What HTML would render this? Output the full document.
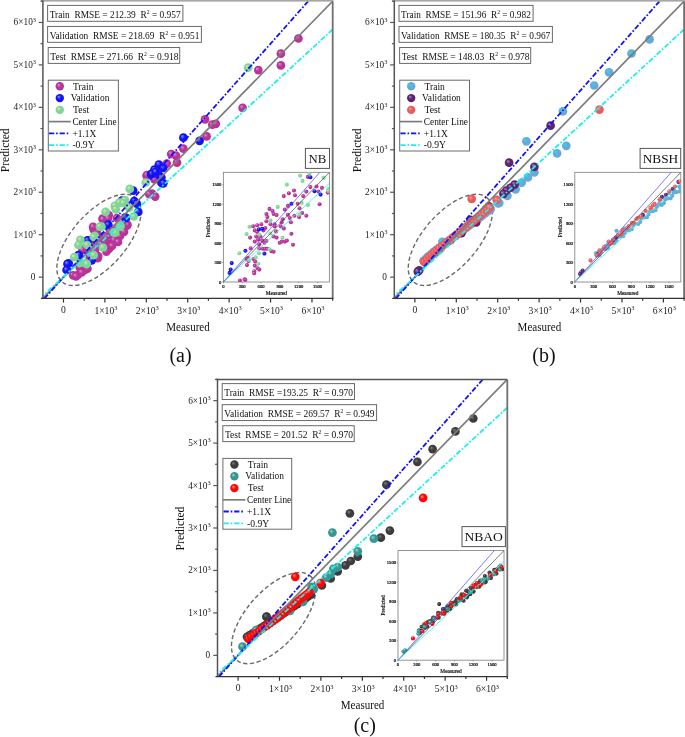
<!DOCTYPE html>
<html><head><meta charset="utf-8"><style>
html,body{margin:0;padding:0;background:#fff;}
svg{display:block;will-change:transform;}
text{font-family:"Liberation Serif", serif;}
</style></head><body>
<svg width="685" height="737" viewBox="0 0 685 737" font-family="Liberation Serif">
<defs><radialGradient id="gatrain" cx="0.5" cy="0.5" r="0.5" fx="0.33" fy="0.3"><stop offset="0" stop-color="#dc97c6"/><stop offset="0.5" stop-color="#b8329a"/><stop offset="1" stop-color="#b8329a"/></radialGradient><radialGradient id="gaval" cx="0.5" cy="0.5" r="0.5" fx="0.33" fy="0.3"><stop offset="0" stop-color="#9090ff"/><stop offset="0.5" stop-color="#1414f2"/><stop offset="1" stop-color="#1414f2"/></radialGradient><radialGradient id="gatest" cx="0.5" cy="0.5" r="0.5" fx="0.33" fy="0.3"><stop offset="0" stop-color="#eee6a0"/><stop offset="0.5" stop-color="#7cd69a"/><stop offset="1" stop-color="#7cd69a"/></radialGradient><radialGradient id="gbtrain" cx="0.5" cy="0.5" r="0.5" fx="0.33" fy="0.3"><stop offset="0" stop-color="#10e8f0"/><stop offset="0.5" stop-color="#67a9db"/><stop offset="1" stop-color="#67a9db"/></radialGradient><radialGradient id="gbval" cx="0.5" cy="0.5" r="0.5" fx="0.33" fy="0.3"><stop offset="0" stop-color="#b58ac8"/><stop offset="0.5" stop-color="#5a2470"/><stop offset="1" stop-color="#5a2470"/></radialGradient><radialGradient id="gbtest" cx="0.5" cy="0.5" r="0.5" fx="0.33" fy="0.3"><stop offset="0" stop-color="#f7a8a8"/><stop offset="0.5" stop-color="#eb5a5c"/><stop offset="1" stop-color="#eb5a5c"/></radialGradient><radialGradient id="gctrain" cx="0.5" cy="0.5" r="0.5" fx="0.33" fy="0.3"><stop offset="0" stop-color="#808080"/><stop offset="0.5" stop-color="#3c3c3c"/><stop offset="1" stop-color="#3c3c3c"/></radialGradient><radialGradient id="gcval" cx="0.5" cy="0.5" r="0.5" fx="0.33" fy="0.3"><stop offset="0" stop-color="#a8dca0"/><stop offset="0.5" stop-color="#369696"/><stop offset="1" stop-color="#369696"/></radialGradient><radialGradient id="gctest" cx="0.5" cy="0.5" r="0.5" fx="0.33" fy="0.3"><stop offset="0" stop-color="#ff9a9a"/><stop offset="0.5" stop-color="#ff0606"/><stop offset="1" stop-color="#ff0606"/></radialGradient></defs>
<rect width="685" height="737" fill="#fff"/>
<g transform="translate(0,0)">
<clipPath id="clipa"><rect x="42.9" y="1.2" width="289.8" height="297.2"/></clipPath>
<clipPath id="iclipa"><rect x="223.4" y="172.35" width="105.99999999999997" height="109.65"/></clipPath>
<g clip-path="url(#clipa)">
<ellipse cx="98.95" cy="239.9" rx="55.9" ry="27.0" transform="rotate(-48.7 98.95 239.9)" fill="none" stroke="#6a6a6a" stroke-width="1.4" stroke-dasharray="4.2 2.6"/>
<circle cx="298.4" cy="38.5" r="4.35" fill="url(#gatrain)"/><circle cx="280.9" cy="53.7" r="4.35" fill="url(#gatrain)"/><circle cx="280.9" cy="65.4" r="4.35" fill="url(#gatrain)"/><circle cx="258.3" cy="70.1" r="4.35" fill="url(#gatrain)"/><circle cx="242.6" cy="107.9" r="4.35" fill="url(#gatrain)"/><circle cx="205.0" cy="119.4" r="4.35" fill="url(#gatrain)"/><circle cx="212.3" cy="124.7" r="4.35" fill="url(#gatrain)"/><circle cx="215.8" cy="123.8" r="4.35" fill="url(#gatrain)"/><circle cx="206.6" cy="136.4" r="4.35" fill="url(#gatrain)"/><circle cx="183.4" cy="148.7" r="4.35" fill="url(#gatrain)"/><circle cx="171.2" cy="154.0" r="4.35" fill="url(#gatrain)"/><circle cx="175.9" cy="155.7" r="4.35" fill="url(#gatrain)"/><circle cx="177.0" cy="162.7" r="4.35" fill="url(#gatrain)"/><circle cx="166.8" cy="163.6" r="4.35" fill="url(#gatrain)"/><circle cx="146.6" cy="175.8" r="4.35" fill="url(#gatrain)"/><circle cx="154.5" cy="179.3" r="4.35" fill="url(#gatrain)"/><circle cx="147.0" cy="175.1" r="4.35" fill="url(#gatrain)"/><circle cx="152.1" cy="193.5" r="4.35" fill="url(#gatrain)"/><circle cx="155.2" cy="196.6" r="4.35" fill="url(#gatrain)"/><circle cx="149.3" cy="194.2" r="4.35" fill="url(#gatrain)"/><circle cx="108.7" cy="215.0" r="4.35" fill="url(#gatrain)"/><circle cx="102.6" cy="218.5" r="4.35" fill="url(#gatrain)"/><circle cx="116.9" cy="218.0" r="4.35" fill="url(#gatrain)"/><circle cx="127.1" cy="225.7" r="4.35" fill="url(#gatrain)"/><circle cx="102.9" cy="219.4" r="4.35" fill="url(#gatrain)"/><circle cx="108.0" cy="218.4" r="4.35" fill="url(#gatrain)"/><circle cx="93.7" cy="229.6" r="4.35" fill="url(#gatrain)"/><circle cx="96.8" cy="232.7" r="4.35" fill="url(#gatrain)"/><circle cx="108.0" cy="243.9" r="4.35" fill="url(#gatrain)"/><circle cx="109.0" cy="249.0" r="4.35" fill="url(#gatrain)"/><circle cx="83.5" cy="249.0" r="4.35" fill="url(#gatrain)"/><circle cx="97.8" cy="258.2" r="4.35" fill="url(#gatrain)"/><circle cx="80.4" cy="266.4" r="4.35" fill="url(#gatrain)"/><circle cx="73.2" cy="275.3" r="4.35" fill="url(#gatrain)"/><circle cx="78.0" cy="274.8" r="4.35" fill="url(#gatrain)"/><circle cx="85.0" cy="270.0" r="4.35" fill="url(#gatrain)"/><circle cx="79.8" cy="267.4" r="4.35" fill="url(#gatrain)"/><circle cx="98.2" cy="256.0" r="4.35" fill="url(#gatrain)"/><circle cx="82.4" cy="249.9" r="4.35" fill="url(#gatrain)"/><circle cx="105.2" cy="242.9" r="4.35" fill="url(#gatrain)"/><circle cx="127.4" cy="224.5" r="4.35" fill="url(#gatrain)"/><circle cx="96.9" cy="230.7" r="4.35" fill="url(#gatrain)"/><circle cx="104.5" cy="245.9" r="4.35" fill="url(#gatrain)"/><circle cx="91.2" cy="242.1" r="4.35" fill="url(#gatrain)"/><circle cx="106.4" cy="251.6" r="4.35" fill="url(#gatrain)"/><circle cx="96.9" cy="257.3" r="4.35" fill="url(#gatrain)"/><circle cx="76.0" cy="276.3" r="4.35" fill="url(#gatrain)"/><circle cx="81.7" cy="272.5" r="4.35" fill="url(#gatrain)"/><circle cx="87.4" cy="268.7" r="4.35" fill="url(#gatrain)"/><circle cx="93.1" cy="226.9" r="4.35" fill="url(#gatrain)"/><circle cx="112.0" cy="236.0" r="4.35" fill="url(#gatrain)"/><circle cx="118.0" cy="230.0" r="4.35" fill="url(#gatrain)"/><circle cx="100.0" cy="240.0" r="4.35" fill="url(#gatrain)"/><circle cx="90.0" cy="252.0" r="4.35" fill="url(#gatrain)"/><circle cx="88.0" cy="262.0" r="4.35" fill="url(#gatrain)"/><circle cx="110.0" cy="228.0" r="4.35" fill="url(#gatrain)"/><circle cx="122.0" cy="222.0" r="4.35" fill="url(#gatrain)"/><circle cx="114.0" cy="240.0" r="4.35" fill="url(#gatrain)"/><circle cx="104.0" cy="236.0" r="4.35" fill="url(#gatrain)"/><circle cx="106.0" cy="237.0" r="4.35" fill="url(#gatrain)"/><circle cx="110.0" cy="232.0" r="4.35" fill="url(#gatrain)"/><circle cx="100.0" cy="244.0" r="4.35" fill="url(#gatrain)"/><circle cx="95.0" cy="250.0" r="4.35" fill="url(#gatrain)"/><circle cx="90.0" cy="257.0" r="4.35" fill="url(#gatrain)"/><circle cx="117.0" cy="228.0" r="4.35" fill="url(#gatrain)"/><circle cx="120.0" cy="236.0" r="4.35" fill="url(#gatrain)"/><circle cx="112.0" cy="246.0" r="4.35" fill="url(#gatrain)"/><circle cx="118.0" cy="242.0" r="4.35" fill="url(#gatrain)"/><circle cx="124.0" cy="232.0" r="4.35" fill="url(#gatrain)"/>
<circle cx="183.4" cy="137.7" r="4.35" fill="url(#gaval)"/><circle cx="199.6" cy="140.8" r="4.35" fill="url(#gaval)"/><circle cx="158.9" cy="164.5" r="4.35" fill="url(#gaval)"/><circle cx="163.3" cy="168.0" r="4.35" fill="url(#gaval)"/><circle cx="154.5" cy="169.7" r="4.35" fill="url(#gaval)"/><circle cx="151.0" cy="174.1" r="4.35" fill="url(#gaval)"/><circle cx="158.9" cy="175.0" r="4.35" fill="url(#gaval)"/><circle cx="161.5" cy="182.9" r="4.35" fill="url(#gaval)"/><circle cx="133.2" cy="190.7" r="4.35" fill="url(#gaval)"/><circle cx="122.0" cy="200.7" r="4.35" fill="url(#gaval)"/><circle cx="134.2" cy="201.2" r="4.35" fill="url(#gaval)"/><circle cx="136.8" cy="203.7" r="4.35" fill="url(#gaval)"/><circle cx="138.3" cy="211.9" r="4.35" fill="url(#gaval)"/><circle cx="126.1" cy="218.0" r="4.35" fill="url(#gaval)"/><circle cx="108.2" cy="224.7" r="4.35" fill="url(#gaval)"/><circle cx="88.1" cy="240.4" r="4.35" fill="url(#gaval)"/><circle cx="78.4" cy="255.2" r="4.35" fill="url(#gaval)"/><circle cx="91.7" cy="260.3" r="4.35" fill="url(#gaval)"/><circle cx="68.7" cy="263.4" r="4.35" fill="url(#gaval)"/><circle cx="67.5" cy="263.9" r="4.35" fill="url(#gaval)"/><circle cx="66.6" cy="270.0" r="4.35" fill="url(#gaval)"/><circle cx="78.9" cy="255.1" r="4.35" fill="url(#gaval)"/><circle cx="87.7" cy="240.3" r="4.35" fill="url(#gaval)"/><circle cx="125.4" cy="217.4" r="4.35" fill="url(#gaval)"/><circle cx="152.0" cy="173.8" r="4.35" fill="url(#gaval)"/><circle cx="155.7" cy="171.9" r="4.35" fill="url(#gaval)"/><circle cx="161.4" cy="177.6" r="4.35" fill="url(#gaval)"/><circle cx="163.3" cy="183.3" r="4.35" fill="url(#gaval)"/>
<circle cx="248.2" cy="67.7" r="4.35" fill="url(#gatest)"/><circle cx="145.8" cy="182.5" r="4.35" fill="url(#gatest)"/><circle cx="129.8" cy="188.9" r="4.35" fill="url(#gatest)"/><circle cx="125.0" cy="200.1" r="4.35" fill="url(#gatest)"/><circle cx="119.4" cy="202.7" r="4.35" fill="url(#gatest)"/><circle cx="114.8" cy="205.8" r="4.35" fill="url(#gatest)"/><circle cx="115.8" cy="209.3" r="4.35" fill="url(#gatest)"/><circle cx="129.1" cy="207.8" r="4.35" fill="url(#gatest)"/><circle cx="133.7" cy="216.5" r="4.35" fill="url(#gatest)"/><circle cx="105.6" cy="211.9" r="4.35" fill="url(#gatest)"/><circle cx="101.5" cy="226.7" r="4.35" fill="url(#gatest)"/><circle cx="120.4" cy="225.7" r="4.35" fill="url(#gatest)"/><circle cx="113.8" cy="232.3" r="4.35" fill="url(#gatest)"/><circle cx="99.9" cy="226.6" r="4.35" fill="url(#gatest)"/><circle cx="94.7" cy="235.8" r="4.35" fill="url(#gatest)"/><circle cx="115.2" cy="232.7" r="4.35" fill="url(#gatest)"/><circle cx="120.3" cy="226.6" r="4.35" fill="url(#gatest)"/><circle cx="102.9" cy="247.5" r="4.35" fill="url(#gatest)"/><circle cx="80.4" cy="239.9" r="4.35" fill="url(#gatest)"/><circle cx="78.4" cy="245.0" r="4.35" fill="url(#gatest)"/><circle cx="87.1" cy="245.0" r="4.35" fill="url(#gatest)"/><circle cx="93.7" cy="255.2" r="4.35" fill="url(#gatest)"/><circle cx="74.3" cy="257.2" r="4.35" fill="url(#gatest)"/><circle cx="85.5" cy="263.4" r="4.35" fill="url(#gatest)"/><circle cx="123.4" cy="203.0" r="4.35" fill="url(#gatest)"/><circle cx="79.8" cy="263.0" r="4.35" fill="url(#gatest)"/><circle cx="86.8" cy="263.9" r="4.35" fill="url(#gatest)"/><circle cx="93.8" cy="236.8" r="4.35" fill="url(#gatest)"/>
<line x1="42.76" y1="298.38" x2="332.68" y2="1.22" stroke="#7c7c7c" stroke-width="1.7"/>
<line x1="44.42" y1="298.63" x2="311.97" y2="-3.02" stroke="#1010ff" stroke-width="1.8" stroke-dasharray="5.2 1.9 1.6 1.9"/>
<line x1="40.0" y1="298.41" x2="340.0" y2="22.71" stroke="#18f0f0" stroke-width="1.8" stroke-dasharray="5.2 1.9 1.6 1.9"/>
</g>
<rect x="223.4" y="172.35" width="105.99999999999997" height="109.65" fill="#fff" stroke="#8a8a8a" stroke-width="0.9"/>
<g clip-path="url(#iclipa)">
<circle cx="307.9" cy="176.9" r="2.05" fill="url(#gatrain)"/><circle cx="316.5" cy="186.5" r="2.05" fill="url(#gatrain)"/><circle cx="322.0" cy="187.9" r="2.05" fill="url(#gatrain)"/><circle cx="318.5" cy="191.6" r="2.05" fill="url(#gatrain)"/><circle cx="327.7" cy="192.6" r="2.05" fill="url(#gatrain)"/><circle cx="319.6" cy="204.2" r="2.05" fill="url(#gatrain)"/><circle cx="294.0" cy="190.5" r="2.05" fill="url(#gatrain)"/><circle cx="303.2" cy="196.1" r="2.05" fill="url(#gatrain)"/><circle cx="283.8" cy="196.1" r="2.05" fill="url(#gatrain)"/><circle cx="288.9" cy="193.2" r="2.05" fill="url(#gatrain)"/><circle cx="295.0" cy="195.2" r="2.05" fill="url(#gatrain)"/><circle cx="297.7" cy="203.8" r="2.05" fill="url(#gatrain)"/><circle cx="299.5" cy="208.3" r="2.05" fill="url(#gatrain)"/><circle cx="294.4" cy="215.7" r="2.05" fill="url(#gatrain)"/><circle cx="299.1" cy="217.1" r="2.05" fill="url(#gatrain)"/><circle cx="287.9" cy="205.9" r="2.05" fill="url(#gatrain)"/><circle cx="284.8" cy="209.6" r="2.05" fill="url(#gatrain)"/><circle cx="287.9" cy="214.7" r="2.05" fill="url(#gatrain)"/><circle cx="289.9" cy="218.1" r="2.05" fill="url(#gatrain)"/><circle cx="290.9" cy="222.2" r="2.05" fill="url(#gatrain)"/><circle cx="282.8" cy="219.2" r="2.05" fill="url(#gatrain)"/><circle cx="281.7" cy="222.2" r="2.05" fill="url(#gatrain)"/><circle cx="280.7" cy="226.3" r="2.05" fill="url(#gatrain)"/><circle cx="283.8" cy="228.4" r="2.05" fill="url(#gatrain)"/><circle cx="269.5" cy="208.9" r="2.05" fill="url(#gatrain)"/><circle cx="272.6" cy="211.0" r="2.05" fill="url(#gatrain)"/><circle cx="266.4" cy="214.0" r="2.05" fill="url(#gatrain)"/><circle cx="267.4" cy="217.1" r="2.05" fill="url(#gatrain)"/><circle cx="273.6" cy="214.0" r="2.05" fill="url(#gatrain)"/><circle cx="276.6" cy="215.1" r="2.05" fill="url(#gatrain)"/><circle cx="270.5" cy="224.3" r="2.05" fill="url(#gatrain)"/><circle cx="274.6" cy="224.3" r="2.05" fill="url(#gatrain)"/><circle cx="274.6" cy="226.3" r="2.05" fill="url(#gatrain)"/><circle cx="276.0" cy="231.4" r="2.05" fill="url(#gatrain)"/><circle cx="273.6" cy="236.5" r="2.05" fill="url(#gatrain)"/><circle cx="276.6" cy="237.6" r="2.05" fill="url(#gatrain)"/><circle cx="279.7" cy="242.7" r="2.05" fill="url(#gatrain)"/><circle cx="281.7" cy="241.6" r="2.05" fill="url(#gatrain)"/><circle cx="284.8" cy="241.6" r="2.05" fill="url(#gatrain)"/><circle cx="286.9" cy="240.6" r="2.05" fill="url(#gatrain)"/><circle cx="291.4" cy="233.7" r="2.05" fill="url(#gatrain)"/><circle cx="266.4" cy="221.2" r="2.05" fill="url(#gatrain)"/><circle cx="261.3" cy="224.3" r="2.05" fill="url(#gatrain)"/><circle cx="257.2" cy="225.3" r="2.05" fill="url(#gatrain)"/><circle cx="253.1" cy="226.3" r="2.05" fill="url(#gatrain)"/><circle cx="254.8" cy="230.4" r="2.05" fill="url(#gatrain)"/><circle cx="257.2" cy="232.0" r="2.05" fill="url(#gatrain)"/><circle cx="263.4" cy="230.4" r="2.05" fill="url(#gatrain)"/><circle cx="265.4" cy="228.0" r="2.05" fill="url(#gatrain)"/><circle cx="256.2" cy="236.5" r="2.05" fill="url(#gatrain)"/><circle cx="260.3" cy="236.5" r="2.05" fill="url(#gatrain)"/><circle cx="258.2" cy="239.6" r="2.05" fill="url(#gatrain)"/><circle cx="262.3" cy="240.6" r="2.05" fill="url(#gatrain)"/><circle cx="250.1" cy="237.6" r="2.05" fill="url(#gatrain)"/><circle cx="254.8" cy="241.6" r="2.05" fill="url(#gatrain)"/><circle cx="264.4" cy="242.7" r="2.05" fill="url(#gatrain)"/><circle cx="266.4" cy="241.0" r="2.05" fill="url(#gatrain)"/><circle cx="259.3" cy="244.3" r="2.05" fill="url(#gatrain)"/><circle cx="259.3" cy="248.4" r="2.05" fill="url(#gatrain)"/><circle cx="262.9" cy="248.8" r="2.05" fill="url(#gatrain)"/><circle cx="265.0" cy="248.8" r="2.05" fill="url(#gatrain)"/><circle cx="267.4" cy="248.8" r="2.05" fill="url(#gatrain)"/><circle cx="271.5" cy="251.2" r="2.05" fill="url(#gatrain)"/><circle cx="273.6" cy="251.7" r="2.05" fill="url(#gatrain)"/><circle cx="250.7" cy="248.4" r="2.05" fill="url(#gatrain)"/><circle cx="248.0" cy="258.0" r="2.05" fill="url(#gatrain)"/><circle cx="246.6" cy="259.0" r="2.05" fill="url(#gatrain)"/><circle cx="248.6" cy="261.0" r="2.05" fill="url(#gatrain)"/><circle cx="253.5" cy="259.0" r="2.05" fill="url(#gatrain)"/><circle cx="255.2" cy="261.5" r="2.05" fill="url(#gatrain)"/><circle cx="254.8" cy="265.6" r="2.05" fill="url(#gatrain)"/><circle cx="247.0" cy="265.1" r="2.05" fill="url(#gatrain)"/><circle cx="257.6" cy="268.2" r="2.05" fill="url(#gatrain)"/><circle cx="259.3" cy="269.6" r="2.05" fill="url(#gatrain)"/><circle cx="254.2" cy="271.3" r="2.05" fill="url(#gatrain)"/><circle cx="254.2" cy="273.3" r="2.05" fill="url(#gatrain)"/><circle cx="239.9" cy="280.5" r="2.05" fill="url(#gatrain)"/><circle cx="244.6" cy="279.4" r="2.05" fill="url(#gatrain)"/><circle cx="245.4" cy="279.9" r="2.05" fill="url(#gatrain)"/><circle cx="293.0" cy="244.7" r="2.05" fill="url(#gatrain)"/><circle cx="306.3" cy="191.6" r="2.05" fill="url(#gatrain)"/><circle cx="310.4" cy="187.1" r="2.05" fill="url(#gatrain)"/><circle cx="302.2" cy="213.0" r="2.05" fill="url(#gatrain)"/><circle cx="306.3" cy="215.7" r="2.05" fill="url(#gatrain)"/>
<circle cx="310.4" cy="177.3" r="2.05" fill="url(#gaval)"/><circle cx="314.5" cy="191.2" r="2.05" fill="url(#gaval)"/><circle cx="320.6" cy="194.6" r="2.05" fill="url(#gaval)"/><circle cx="291.4" cy="203.8" r="2.05" fill="url(#gaval)"/><circle cx="258.9" cy="229.4" r="2.05" fill="url(#gaval)"/><circle cx="262.3" cy="228.8" r="2.05" fill="url(#gaval)"/><circle cx="245.4" cy="250.8" r="2.05" fill="url(#gaval)"/><circle cx="264.4" cy="253.5" r="2.05" fill="url(#gaval)"/><circle cx="231.7" cy="263.1" r="2.05" fill="url(#gaval)"/><circle cx="230.7" cy="269.6" r="2.05" fill="url(#gaval)"/><circle cx="229.6" cy="272.9" r="2.05" fill="url(#gaval)"/>
<circle cx="300.1" cy="175.6" r="2.05" fill="url(#gatest)"/><circle cx="309.3" cy="173.6" r="2.05" fill="url(#gatest)"/><circle cx="323.6" cy="177.7" r="2.05" fill="url(#gatest)"/><circle cx="302.6" cy="180.9" r="2.05" fill="url(#gatest)"/><circle cx="286.9" cy="184.6" r="2.05" fill="url(#gatest)"/><circle cx="328.3" cy="189.1" r="2.05" fill="url(#gatest)"/><circle cx="328.3" cy="191.0" r="2.05" fill="url(#gatest)"/><circle cx="277.7" cy="206.9" r="2.05" fill="url(#gatest)"/><circle cx="301.6" cy="202.8" r="2.05" fill="url(#gatest)"/><circle cx="307.9" cy="204.9" r="2.05" fill="url(#gatest)"/><circle cx="299.7" cy="214.5" r="2.05" fill="url(#gatest)"/><circle cx="270.5" cy="220.6" r="2.05" fill="url(#gatest)"/><circle cx="249.5" cy="226.7" r="2.05" fill="url(#gatest)"/><circle cx="246.6" cy="234.1" r="2.05" fill="url(#gatest)"/><circle cx="259.3" cy="234.5" r="2.05" fill="url(#gatest)"/><circle cx="270.5" cy="233.5" r="2.05" fill="url(#gatest)"/><circle cx="282.4" cy="237.8" r="2.05" fill="url(#gatest)"/><circle cx="269.5" cy="249.2" r="2.05" fill="url(#gatest)"/><circle cx="239.4" cy="253.3" r="2.05" fill="url(#gatest)"/><circle cx="258.9" cy="253.3" r="2.05" fill="url(#gatest)"/><circle cx="255.6" cy="257.4" r="2.05" fill="url(#gatest)"/><circle cx="258.2" cy="263.7" r="2.05" fill="url(#gatest)"/><circle cx="249.0" cy="260.0" r="2.05" fill="url(#gatest)"/>
<line x1="223.4" y1="282.0" x2="329.4" y2="172.35" stroke="#444" stroke-width="0.7"/>
<line x1="223.4" y1="282.0" x2="319.76" y2="172.35" stroke="#4040ff" stroke-width="0.7"/>
<line x1="223.4" y1="282.0" x2="329.4" y2="183.31" stroke="#30f0f0" stroke-width="0.8"/>
</g>
<line x1="223.40" y1="282.0" x2="223.40" y2="283.4" stroke="#666" stroke-width="0.5"/>
<line x1="223.4" y1="282.00" x2="222.0" y2="282.00" stroke="#666" stroke-width="0.5"/>
<text x="223.40" y="288.0" font-size="4.6" text-anchor="middle" fill="#000" stroke="#000" stroke-width="0.18">0</text>
<text x="221.4" y="283.60" font-size="4.6" text-anchor="end" fill="#000" stroke="#000" stroke-width="0.18">0</text>
<line x1="242.22" y1="282.0" x2="242.22" y2="283.4" stroke="#666" stroke-width="0.5"/>
<line x1="223.4" y1="262.54" x2="222.0" y2="262.54" stroke="#666" stroke-width="0.5"/>
<text x="242.22" y="288.0" font-size="4.6" text-anchor="middle" fill="#000" stroke="#000" stroke-width="0.18">300</text>
<text x="221.4" y="264.14" font-size="4.6" text-anchor="end" fill="#000" stroke="#000" stroke-width="0.18">300</text>
<line x1="261.03" y1="282.0" x2="261.03" y2="283.4" stroke="#666" stroke-width="0.5"/>
<line x1="223.4" y1="243.07" x2="222.0" y2="243.07" stroke="#666" stroke-width="0.5"/>
<text x="261.03" y="288.0" font-size="4.6" text-anchor="middle" fill="#000" stroke="#000" stroke-width="0.18">600</text>
<text x="221.4" y="244.67" font-size="4.6" text-anchor="end" fill="#000" stroke="#000" stroke-width="0.18">600</text>
<line x1="279.85" y1="282.0" x2="279.85" y2="283.4" stroke="#666" stroke-width="0.5"/>
<line x1="223.4" y1="223.61" x2="222.0" y2="223.61" stroke="#666" stroke-width="0.5"/>
<text x="279.85" y="288.0" font-size="4.6" text-anchor="middle" fill="#000" stroke="#000" stroke-width="0.18">900</text>
<text x="221.4" y="225.21" font-size="4.6" text-anchor="end" fill="#000" stroke="#000" stroke-width="0.18">900</text>
<line x1="298.67" y1="282.0" x2="298.67" y2="283.4" stroke="#666" stroke-width="0.5"/>
<line x1="223.4" y1="204.14" x2="222.0" y2="204.14" stroke="#666" stroke-width="0.5"/>
<text x="298.67" y="288.0" font-size="4.6" text-anchor="middle" fill="#000" stroke="#000" stroke-width="0.18">1200</text>
<text x="221.4" y="205.74" font-size="4.6" text-anchor="end" fill="#000" stroke="#000" stroke-width="0.18">1200</text>
<line x1="317.48" y1="282.0" x2="317.48" y2="283.4" stroke="#666" stroke-width="0.5"/>
<line x1="223.4" y1="184.68" x2="222.0" y2="184.68" stroke="#666" stroke-width="0.5"/>
<text x="317.48" y="288.0" font-size="4.6" text-anchor="middle" fill="#000" stroke="#000" stroke-width="0.18">1500</text>
<text x="221.4" y="186.28" font-size="4.6" text-anchor="end" fill="#000" stroke="#000" stroke-width="0.18">1500</text>
<text x="276.4" y="295.0" font-size="5.4" text-anchor="middle" fill="#000" stroke="#000" stroke-width="0.15">Measured</text>
<text transform="translate(210.20000000000002,227.2) rotate(-90)" font-size="5.4" text-anchor="middle" fill="#000" stroke="#000" stroke-width="0.15">Predicted</text>
<rect x="305.4" y="148.4" width="24.100000000000023" height="20" fill="#fff" stroke="#555" stroke-width="1"/>
<text x="317.45" y="162.8" font-size="13.4" text-anchor="middle" fill="#111" textLength="17.8" lengthAdjust="spacingAndGlyphs">NB</text>
<rect x="47.6" y="5.40" width="135.30" height="15.9" fill="#fff" stroke="#6a6a6a" stroke-width="1"/>
<text x="49.70" y="17.70" font-size="10" fill="#111" xml:space="preserve" textLength="131.00" lengthAdjust="spacingAndGlyphs">Train  RMSE = 212.39  R<tspan dy="-3.6" font-size="6">2</tspan><tspan dy="3.6"> = 0.957</tspan></text>
<rect x="47.6" y="26.45" width="153.80" height="15.9" fill="#fff" stroke="#6a6a6a" stroke-width="1"/>
<text x="49.70" y="38.75" font-size="10" fill="#111" xml:space="preserve" textLength="149.70" lengthAdjust="spacingAndGlyphs">Validation  RMSE = 218.69  R<tspan dy="-3.6" font-size="6">2</tspan><tspan dy="3.6"> = 0.951</tspan></text>
<rect x="48.2" y="47.50" width="131.50" height="15.9" fill="#fff" stroke="#6a6a6a" stroke-width="1"/>
<text x="50.30" y="59.80" font-size="10" fill="#111" xml:space="preserve" textLength="128.20" lengthAdjust="spacingAndGlyphs">Test  RMSE = 271.66  R<tspan dy="-3.6" font-size="6">2</tspan><tspan dy="3.6"> = 0.918</tspan></text>
<rect x="48.3" y="80.2" width="70.10" height="70.8" fill="#fff" stroke="#6a6a6a" stroke-width="1"/>
<circle cx="59.8" cy="86.3" r="4.2" fill="url(#gatrain)"/>
<circle cx="59.8" cy="98.1" r="4.2" fill="url(#gaval)"/>
<circle cx="59.8" cy="109.9" r="4.2" fill="url(#gatest)"/>
<line x1="48.3" y1="121.6" x2="70.8" y2="121.6" stroke="#7c7c7c" stroke-width="1.7"/>
<line x1="49" y1="133.3" x2="69" y2="133.3" stroke="#1010ff" stroke-width="1.8" stroke-dasharray="5.2 1.9 1.6 1.9"/>
<line x1="49" y1="145.2" x2="69" y2="145.2" stroke="#18f0f0" stroke-width="1.8" stroke-dasharray="5.2 1.9 1.6 1.9"/>
<text x="73.1" y="89.50" font-size="9.9" fill="#111" textLength="20.4" lengthAdjust="spacingAndGlyphs">Train</text>
<text x="70.65" y="101.30" font-size="9.9" fill="#111" textLength="38.8" lengthAdjust="spacingAndGlyphs">Validation</text>
<text x="73.1" y="113.10" font-size="9.9" fill="#111" textLength="16.0" lengthAdjust="spacingAndGlyphs">Test</text>
<text x="72.4" y="124.80" font-size="9.9" fill="#111" textLength="44.2" lengthAdjust="spacingAndGlyphs">Center Line</text>
<text x="72.4" y="136.50" font-size="9.9" fill="#111" textLength="24.0" lengthAdjust="spacingAndGlyphs">+1.1X</text>
<text x="72.4" y="148.40" font-size="9.9" fill="#111" textLength="22.2" lengthAdjust="spacingAndGlyphs">-0.9Y</text>
<rect x="40.9" y="0" width="292.5" height="1.6" fill="#a6a6a6"/>
<line x1="332.7" y1="1.2" x2="332.7" y2="298.4" stroke="#707070" stroke-width="1.8"/>
<line x1="42.9" y1="0.5" x2="42.9" y2="298.4" stroke="#555" stroke-width="1.5"/>
<line x1="40.9" y1="298.4" x2="333.4" y2="298.4" stroke="#333" stroke-width="1.4"/>
<line x1="63.47" y1="298.4" x2="63.47" y2="302.59999999999997" stroke="#333" stroke-width="1.2"/>
<line x1="42.9" y1="277.15" x2="38.699999999999996" y2="277.15" stroke="#555" stroke-width="1.2"/>
<text x="63.47" y="312.8" font-size="9.6" text-anchor="middle" fill="#222">0</text>
<text x="35.5" y="280.15" font-size="9.3" text-anchor="end" fill="#222">0</text>
<line x1="84.18" y1="298.4" x2="84.18" y2="300.79999999999995" stroke="#333" stroke-width="1.2"/>
<line x1="42.9" y1="255.92" x2="40.5" y2="255.92" stroke="#555" stroke-width="1.2"/>
<line x1="104.89" y1="298.4" x2="104.89" y2="302.59999999999997" stroke="#333" stroke-width="1.2"/>
<line x1="42.9" y1="234.70" x2="38.699999999999996" y2="234.70" stroke="#555" stroke-width="1.2"/>
<text x="105.89" y="314.2" font-size="9.6" text-anchor="middle" fill="#222">1×10<tspan dy="-3.8" font-size="6.4">3</tspan></text>
<text x="36.0" y="237.70" font-size="9.3" text-anchor="end" fill="#222">1×10<tspan dy="-3.8" font-size="6.4">3</tspan></text>
<line x1="125.60" y1="298.4" x2="125.60" y2="300.79999999999995" stroke="#333" stroke-width="1.2"/>
<line x1="42.9" y1="213.47" x2="40.5" y2="213.47" stroke="#555" stroke-width="1.2"/>
<line x1="146.30" y1="298.4" x2="146.30" y2="302.59999999999997" stroke="#333" stroke-width="1.2"/>
<line x1="42.9" y1="192.25" x2="38.699999999999996" y2="192.25" stroke="#555" stroke-width="1.2"/>
<text x="147.30" y="314.2" font-size="9.6" text-anchor="middle" fill="#222">2×10<tspan dy="-3.8" font-size="6.4">3</tspan></text>
<text x="36.0" y="195.25" font-size="9.3" text-anchor="end" fill="#222">2×10<tspan dy="-3.8" font-size="6.4">3</tspan></text>
<line x1="167.01" y1="298.4" x2="167.01" y2="300.79999999999995" stroke="#333" stroke-width="1.2"/>
<line x1="42.9" y1="171.02" x2="40.5" y2="171.02" stroke="#555" stroke-width="1.2"/>
<line x1="187.72" y1="298.4" x2="187.72" y2="302.59999999999997" stroke="#333" stroke-width="1.2"/>
<line x1="42.9" y1="149.80" x2="38.699999999999996" y2="149.80" stroke="#555" stroke-width="1.2"/>
<text x="188.72" y="314.2" font-size="9.6" text-anchor="middle" fill="#222">3×10<tspan dy="-3.8" font-size="6.4">3</tspan></text>
<text x="36.0" y="152.80" font-size="9.3" text-anchor="end" fill="#222">3×10<tspan dy="-3.8" font-size="6.4">3</tspan></text>
<line x1="208.43" y1="298.4" x2="208.43" y2="300.79999999999995" stroke="#333" stroke-width="1.2"/>
<line x1="42.9" y1="128.57" x2="40.5" y2="128.57" stroke="#555" stroke-width="1.2"/>
<line x1="229.14" y1="298.4" x2="229.14" y2="302.59999999999997" stroke="#333" stroke-width="1.2"/>
<line x1="42.9" y1="107.35" x2="38.699999999999996" y2="107.35" stroke="#555" stroke-width="1.2"/>
<text x="230.14" y="314.2" font-size="9.6" text-anchor="middle" fill="#222">4×10<tspan dy="-3.8" font-size="6.4">3</tspan></text>
<text x="36.0" y="110.35" font-size="9.3" text-anchor="end" fill="#222">4×10<tspan dy="-3.8" font-size="6.4">3</tspan></text>
<line x1="249.85" y1="298.4" x2="249.85" y2="300.79999999999995" stroke="#333" stroke-width="1.2"/>
<line x1="42.9" y1="86.12" x2="40.5" y2="86.12" stroke="#555" stroke-width="1.2"/>
<line x1="270.56" y1="298.4" x2="270.56" y2="302.59999999999997" stroke="#333" stroke-width="1.2"/>
<line x1="42.9" y1="64.90" x2="38.699999999999996" y2="64.90" stroke="#555" stroke-width="1.2"/>
<text x="271.56" y="314.2" font-size="9.6" text-anchor="middle" fill="#222">5×10<tspan dy="-3.8" font-size="6.4">3</tspan></text>
<text x="36.0" y="67.90" font-size="9.3" text-anchor="end" fill="#222">5×10<tspan dy="-3.8" font-size="6.4">3</tspan></text>
<line x1="291.26" y1="298.4" x2="291.26" y2="300.79999999999995" stroke="#333" stroke-width="1.2"/>
<line x1="42.9" y1="43.67" x2="40.5" y2="43.67" stroke="#555" stroke-width="1.2"/>
<line x1="311.97" y1="298.4" x2="311.97" y2="302.59999999999997" stroke="#333" stroke-width="1.2"/>
<line x1="42.9" y1="22.45" x2="38.699999999999996" y2="22.45" stroke="#555" stroke-width="1.2"/>
<text x="312.97" y="314.2" font-size="9.6" text-anchor="middle" fill="#222">6×10<tspan dy="-3.8" font-size="6.4">3</tspan></text>
<text x="36.0" y="25.45" font-size="9.3" text-anchor="end" fill="#222">6×10<tspan dy="-3.8" font-size="6.4">3</tspan></text>
<line x1="332.68" y1="298.4" x2="332.68" y2="300.79999999999995" stroke="#333" stroke-width="1.2"/>
<line x1="42.9" y1="1.22" x2="40.5" y2="1.22" stroke="#555" stroke-width="1.2"/>
<text x="188" y="330.6" font-size="12.2" text-anchor="middle" fill="#111" textLength="43.6" lengthAdjust="spacingAndGlyphs">Measured</text>
<text transform="translate(9.2,150.3) rotate(-90)" font-size="11.6" text-anchor="middle" fill="#111">Predicted</text>
</g>
<g transform="translate(351.4,0)">
<clipPath id="clipb"><rect x="42.9" y="1.2" width="289.8" height="297.2"/></clipPath>
<clipPath id="iclipb"><rect x="223.4" y="172.35" width="105.99999999999997" height="109.65"/></clipPath>
<g clip-path="url(#clipb)">
<ellipse cx="98.95" cy="239.9" rx="55.9" ry="27.0" transform="rotate(-48.7 98.95 239.9)" fill="none" stroke="#6a6a6a" stroke-width="1.4" stroke-dasharray="4.2 2.6"/>
<circle cx="139.3" cy="209.1" r="4.35" fill="url(#gbtrain)"/><circle cx="136.6" cy="211.2" r="4.35" fill="url(#gbtrain)"/><circle cx="133.9" cy="213.2" r="4.35" fill="url(#gbtrain)"/><circle cx="131.2" cy="215.3" r="4.35" fill="url(#gbtrain)"/><circle cx="128.5" cy="217.4" r="4.35" fill="url(#gbtrain)"/><circle cx="125.8" cy="219.4" r="4.35" fill="url(#gbtrain)"/><circle cx="123.2" cy="221.5" r="4.35" fill="url(#gbtrain)"/><circle cx="120.5" cy="223.6" r="4.35" fill="url(#gbtrain)"/><circle cx="117.8" cy="225.6" r="4.35" fill="url(#gbtrain)"/><circle cx="115.1" cy="227.7" r="4.35" fill="url(#gbtrain)"/><circle cx="112.4" cy="229.8" r="4.35" fill="url(#gbtrain)"/><circle cx="109.7" cy="231.8" r="4.35" fill="url(#gbtrain)"/><circle cx="106.9" cy="233.8" r="4.35" fill="url(#gbtrain)"/><circle cx="104.2" cy="235.8" r="4.35" fill="url(#gbtrain)"/><circle cx="101.4" cy="237.8" r="4.35" fill="url(#gbtrain)"/><circle cx="98.7" cy="239.8" r="4.35" fill="url(#gbtrain)"/><circle cx="95.9" cy="241.8" r="4.35" fill="url(#gbtrain)"/><circle cx="93.2" cy="243.8" r="4.35" fill="url(#gbtrain)"/><circle cx="90.4" cy="245.8" r="4.35" fill="url(#gbtrain)"/><circle cx="87.7" cy="247.8" r="4.35" fill="url(#gbtrain)"/><circle cx="84.9" cy="249.8" r="4.35" fill="url(#gbtrain)"/><circle cx="82.3" cy="251.9" r="4.35" fill="url(#gbtrain)"/><circle cx="79.8" cy="254.2" r="4.35" fill="url(#gbtrain)"/><circle cx="77.2" cy="256.4" r="4.35" fill="url(#gbtrain)"/><circle cx="74.7" cy="258.7" r="4.35" fill="url(#gbtrain)"/><circle cx="72.1" cy="260.9" r="4.35" fill="url(#gbtrain)"/><circle cx="298.2" cy="39.3" r="4.35" fill="url(#gbtrain)"/><circle cx="280.1" cy="53.5" r="4.35" fill="url(#gbtrain)"/><circle cx="257.7" cy="72.3" r="4.35" fill="url(#gbtrain)"/><circle cx="242.8" cy="85.5" r="4.35" fill="url(#gbtrain)"/><circle cx="211.5" cy="111.3" r="4.35" fill="url(#gbtrain)"/><circle cx="175.0" cy="141.3" r="4.35" fill="url(#gbtrain)"/><circle cx="214.9" cy="145.8" r="4.35" fill="url(#gbtrain)"/><circle cx="205.7" cy="153.3" r="4.35" fill="url(#gbtrain)"/><circle cx="183.0" cy="172.3" r="4.35" fill="url(#gbtrain)"/><circle cx="176.5" cy="177.4" r="4.35" fill="url(#gbtrain)"/><circle cx="170.3" cy="182.6" r="4.35" fill="url(#gbtrain)"/><circle cx="164.2" cy="189.3" r="4.35" fill="url(#gbtrain)"/><circle cx="156.0" cy="195.8" r="4.35" fill="url(#gbtrain)"/><circle cx="147.9" cy="203.0" r="4.35" fill="url(#gbtrain)"/><circle cx="146.8" cy="203.5" r="4.35" fill="url(#gbtrain)"/><circle cx="76.8" cy="256.5" r="4.35" fill="url(#gbtrain)"/><circle cx="91.0" cy="241.8" r="4.35" fill="url(#gbtrain)"/>
<circle cx="199.2" cy="125.7" r="4.35" fill="url(#gbval)"/><circle cx="157.7" cy="162.7" r="4.35" fill="url(#gbval)"/><circle cx="183.0" cy="166.8" r="4.35" fill="url(#gbval)"/><circle cx="163.2" cy="184.6" r="4.35" fill="url(#gbval)"/><circle cx="159.1" cy="187.7" r="4.35" fill="url(#gbval)"/><circle cx="155.0" cy="190.7" r="4.35" fill="url(#gbval)"/><circle cx="152.0" cy="193.8" r="4.35" fill="url(#gbval)"/><circle cx="137.6" cy="206.4" r="4.35" fill="url(#gbval)"/><circle cx="67.8" cy="270.3" r="4.35" fill="url(#gbval)"/><circle cx="66.4" cy="271.7" r="4.35" fill="url(#gbval)"/><circle cx="110.1" cy="233.2" r="4.35" fill="url(#gbval)"/><circle cx="124.8" cy="222.4" r="4.35" fill="url(#gbval)"/><circle cx="119.1" cy="219.9" r="4.35" fill="url(#gbval)"/><circle cx="99.1" cy="240.2" r="4.35" fill="url(#gbval)"/>
<circle cx="248.1" cy="109.6" r="4.35" fill="url(#gbtest)"/><circle cx="120.3" cy="198.9" r="4.35" fill="url(#gbtest)"/><circle cx="145.4" cy="199.9" r="4.35" fill="url(#gbtest)"/><circle cx="134.6" cy="209.1" r="4.35" fill="url(#gbtest)"/><circle cx="73.0" cy="261.7" r="4.35" fill="url(#gbtest)"/><circle cx="77.8" cy="258.0" r="4.35" fill="url(#gbtest)"/><circle cx="83.4" cy="253.2" r="4.35" fill="url(#gbtest)"/><circle cx="88.2" cy="249.4" r="4.35" fill="url(#gbtest)"/><circle cx="72.8" cy="261.8" r="4.35" fill="url(#gbtest)"/><circle cx="75.3" cy="259.5" r="4.35" fill="url(#gbtest)"/><circle cx="77.7" cy="257.1" r="4.35" fill="url(#gbtest)"/><circle cx="80.2" cy="254.8" r="4.35" fill="url(#gbtest)"/><circle cx="82.7" cy="252.5" r="4.35" fill="url(#gbtest)"/><circle cx="85.3" cy="250.3" r="4.35" fill="url(#gbtest)"/><circle cx="87.9" cy="248.2" r="4.35" fill="url(#gbtest)"/><circle cx="90.6" cy="246.1" r="4.35" fill="url(#gbtest)"/><circle cx="93.3" cy="244.0" r="4.35" fill="url(#gbtest)"/><circle cx="96.0" cy="241.9" r="4.35" fill="url(#gbtest)"/><circle cx="98.7" cy="239.8" r="4.35" fill="url(#gbtest)"/><circle cx="101.3" cy="237.7" r="4.35" fill="url(#gbtest)"/><circle cx="104.0" cy="235.6" r="4.35" fill="url(#gbtest)"/><circle cx="106.7" cy="233.5" r="4.35" fill="url(#gbtest)"/><circle cx="109.3" cy="231.4" r="4.35" fill="url(#gbtest)"/><circle cx="112.0" cy="229.2" r="4.35" fill="url(#gbtest)"/><circle cx="114.6" cy="227.1" r="4.35" fill="url(#gbtest)"/><circle cx="117.2" cy="224.9" r="4.35" fill="url(#gbtest)"/><circle cx="119.8" cy="222.7" r="4.35" fill="url(#gbtest)"/><circle cx="122.5" cy="220.6" r="4.35" fill="url(#gbtest)"/><circle cx="125.1" cy="218.4" r="4.35" fill="url(#gbtest)"/><circle cx="127.7" cy="216.2" r="4.35" fill="url(#gbtest)"/><circle cx="130.3" cy="214.1" r="4.35" fill="url(#gbtest)"/><circle cx="133.0" cy="211.9" r="4.35" fill="url(#gbtest)"/><circle cx="135.6" cy="209.8" r="4.35" fill="url(#gbtest)"/><circle cx="138.2" cy="207.6" r="4.35" fill="url(#gbtest)"/>
<line x1="42.76" y1="298.38" x2="332.68" y2="1.22" stroke="#7c7c7c" stroke-width="1.7"/>
<line x1="44.42" y1="298.63" x2="311.97" y2="-3.02" stroke="#1010ff" stroke-width="1.8" stroke-dasharray="5.2 1.9 1.6 1.9"/>
<line x1="40.0" y1="298.41" x2="340.0" y2="22.71" stroke="#18f0f0" stroke-width="1.8" stroke-dasharray="5.2 1.9 1.6 1.9"/>
</g>
<rect x="223.4" y="172.35" width="105.99999999999997" height="109.65" fill="#fff" stroke="#8a8a8a" stroke-width="0.9"/>
<g clip-path="url(#iclipb)">
<circle cx="244.5" cy="253.3" r="2.05" fill="url(#gbtrain)"/><circle cx="247.0" cy="252.5" r="2.05" fill="url(#gbtrain)"/><circle cx="254.4" cy="245.9" r="2.05" fill="url(#gbtrain)"/><circle cx="256.9" cy="243.4" r="2.05" fill="url(#gbtrain)"/><circle cx="265.1" cy="230.7" r="2.05" fill="url(#gbtrain)"/><circle cx="273.4" cy="228.6" r="2.05" fill="url(#gbtrain)"/><circle cx="308.0" cy="203.0" r="2.05" fill="url(#gbtrain)"/><circle cx="317.9" cy="193.1" r="2.05" fill="url(#gbtrain)"/><circle cx="327.8" cy="186.5" r="2.05" fill="url(#gbtrain)"/><circle cx="312.6" cy="198.0" r="2.05" fill="url(#gbtrain)"/><circle cx="322.6" cy="190.0" r="2.05" fill="url(#gbtrain)"/><circle cx="245.4" cy="255.6" r="2.05" fill="url(#gbtrain)"/><circle cx="248.1" cy="255.1" r="2.05" fill="url(#gbtrain)"/><circle cx="249.6" cy="251.9" r="2.05" fill="url(#gbtrain)"/><circle cx="251.3" cy="249.3" r="2.05" fill="url(#gbtrain)"/><circle cx="254.3" cy="249.3" r="2.05" fill="url(#gbtrain)"/><circle cx="256.6" cy="248.0" r="2.05" fill="url(#gbtrain)"/><circle cx="257.9" cy="244.5" r="2.05" fill="url(#gbtrain)"/><circle cx="260.1" cy="242.8" r="2.05" fill="url(#gbtrain)"/><circle cx="263.1" cy="242.9" r="2.05" fill="url(#gbtrain)"/><circle cx="265.0" cy="240.6" r="2.05" fill="url(#gbtrain)"/><circle cx="266.4" cy="237.3" r="2.05" fill="url(#gbtrain)"/><circle cx="269.0" cy="236.5" r="2.05" fill="url(#gbtrain)"/><circle cx="271.8" cy="236.2" r="2.05" fill="url(#gbtrain)"/><circle cx="273.3" cy="233.1" r="2.05" fill="url(#gbtrain)"/><circle cx="275.0" cy="230.4" r="2.05" fill="url(#gbtrain)"/><circle cx="277.9" cy="230.3" r="2.05" fill="url(#gbtrain)"/><circle cx="280.4" cy="229.2" r="2.05" fill="url(#gbtrain)"/><circle cx="281.7" cy="225.7" r="2.05" fill="url(#gbtrain)"/><circle cx="283.7" cy="223.8" r="2.05" fill="url(#gbtrain)"/><circle cx="286.8" cy="223.9" r="2.05" fill="url(#gbtrain)"/><circle cx="288.8" cy="221.9" r="2.05" fill="url(#gbtrain)"/><circle cx="290.1" cy="218.4" r="2.05" fill="url(#gbtrain)"/><circle cx="292.6" cy="217.5" r="2.05" fill="url(#gbtrain)"/><circle cx="295.5" cy="217.3" r="2.05" fill="url(#gbtrain)"/><circle cx="297.1" cy="214.4" r="2.05" fill="url(#gbtrain)"/><circle cx="298.6" cy="211.5" r="2.05" fill="url(#gbtrain)"/><circle cx="301.5" cy="211.2" r="2.05" fill="url(#gbtrain)"/><circle cx="304.1" cy="210.3" r="2.05" fill="url(#gbtrain)"/><circle cx="305.4" cy="206.9" r="2.05" fill="url(#gbtrain)"/><circle cx="307.4" cy="204.8" r="2.05" fill="url(#gbtrain)"/><circle cx="310.4" cy="204.9" r="2.05" fill="url(#gbtrain)"/><circle cx="312.6" cy="203.1" r="2.05" fill="url(#gbtrain)"/><circle cx="313.8" cy="199.6" r="2.05" fill="url(#gbtrain)"/><circle cx="316.2" cy="198.4" r="2.05" fill="url(#gbtrain)"/><circle cx="319.2" cy="198.3" r="2.05" fill="url(#gbtrain)"/><circle cx="320.9" cy="195.7" r="2.05" fill="url(#gbtrain)"/><circle cx="322.3" cy="192.6" r="2.05" fill="url(#gbtrain)"/><circle cx="325.1" cy="192.1" r="2.05" fill="url(#gbtrain)"/><circle cx="327.8" cy="191.5" r="2.05" fill="url(#gbtrain)"/><circle cx="329.2" cy="188.2" r="2.05" fill="url(#gbtrain)"/>
<circle cx="229.7" cy="272.3" r="2.05" fill="url(#gbval)"/><circle cx="231.3" cy="270.6" r="2.05" fill="url(#gbval)"/><circle cx="228.6" cy="274.0" r="2.05" fill="url(#gbval)"/><circle cx="261.8" cy="240.1" r="2.05" fill="url(#gbval)"/><circle cx="264.3" cy="237.6" r="2.05" fill="url(#gbval)"/><circle cx="291.5" cy="214.9" r="2.05" fill="url(#gbval)"/><circle cx="310.5" cy="196.7" r="2.05" fill="url(#gbval)"/><circle cx="314.6" cy="194.7" r="2.05" fill="url(#gbval)"/><circle cx="321.2" cy="189.0" r="2.05" fill="url(#gbval)"/><circle cx="327.0" cy="181.9" r="2.05" fill="url(#gbval)"/><circle cx="246.6" cy="254.0" r="2.05" fill="url(#gbval)"/>
<circle cx="239.1" cy="260.4" r="2.05" fill="url(#gbtest)"/><circle cx="245.3" cy="255.4" r="2.05" fill="url(#gbtest)"/><circle cx="248.6" cy="253.0" r="2.05" fill="url(#gbtest)"/><circle cx="258.5" cy="244.2" r="2.05" fill="url(#gbtest)"/><circle cx="270.1" cy="232.7" r="2.05" fill="url(#gbtest)"/><circle cx="270.1" cy="234.5" r="2.05" fill="url(#gbtest)"/><circle cx="277.5" cy="226.1" r="2.05" fill="url(#gbtest)"/><circle cx="282.5" cy="222.8" r="2.05" fill="url(#gbtest)"/><circle cx="286.6" cy="217.8" r="2.05" fill="url(#gbtest)"/><circle cx="299.8" cy="208.0" r="2.05" fill="url(#gbtest)"/><circle cx="301.4" cy="205.5" r="2.05" fill="url(#gbtest)"/><circle cx="303.1" cy="203.8" r="2.05" fill="url(#gbtest)"/><circle cx="308.9" cy="199.7" r="2.05" fill="url(#gbtest)"/><circle cx="317.9" cy="191.4" r="2.05" fill="url(#gbtest)"/><circle cx="323.7" cy="186.5" r="2.05" fill="url(#gbtest)"/><circle cx="328.6" cy="181.2" r="2.05" fill="url(#gbtest)"/><circle cx="260.6" cy="243.0" r="2.05" fill="url(#gbtest)"/><circle cx="252.6" cy="248.0" r="2.05" fill="url(#gbtest)"/><circle cx="248.1" cy="250.2" r="2.05" fill="url(#gbtest)"/><circle cx="252.7" cy="247.1" r="2.05" fill="url(#gbtest)"/><circle cx="257.3" cy="241.5" r="2.05" fill="url(#gbtest)"/><circle cx="261.9" cy="239.2" r="2.05" fill="url(#gbtest)"/><circle cx="266.6" cy="235.0" r="2.05" fill="url(#gbtest)"/><circle cx="271.2" cy="230.1" r="2.05" fill="url(#gbtest)"/><circle cx="275.8" cy="228.1" r="2.05" fill="url(#gbtest)"/><circle cx="280.4" cy="222.9" r="2.05" fill="url(#gbtest)"/><circle cx="285.0" cy="219.0" r="2.05" fill="url(#gbtest)"/><circle cx="289.6" cy="216.5" r="2.05" fill="url(#gbtest)"/><circle cx="294.3" cy="210.9" r="2.05" fill="url(#gbtest)"/><circle cx="298.9" cy="208.1" r="2.05" fill="url(#gbtest)"/><circle cx="303.5" cy="204.7" r="2.05" fill="url(#gbtest)"/><circle cx="308.1" cy="199.2" r="2.05" fill="url(#gbtest)"/>
<line x1="223.4" y1="282.0" x2="329.4" y2="172.35" stroke="#444" stroke-width="0.7"/>
<line x1="223.4" y1="282.0" x2="319.76" y2="172.35" stroke="#4040ff" stroke-width="0.7"/>
<line x1="223.4" y1="282.0" x2="329.4" y2="183.31" stroke="#30f0f0" stroke-width="0.8"/>
</g>
<line x1="223.40" y1="282.0" x2="223.40" y2="283.4" stroke="#666" stroke-width="0.5"/>
<line x1="223.4" y1="282.00" x2="222.0" y2="282.00" stroke="#666" stroke-width="0.5"/>
<text x="223.40" y="288.0" font-size="4.6" text-anchor="middle" fill="#000" stroke="#000" stroke-width="0.18">0</text>
<text x="221.4" y="283.60" font-size="4.6" text-anchor="end" fill="#000" stroke="#000" stroke-width="0.18">0</text>
<line x1="242.22" y1="282.0" x2="242.22" y2="283.4" stroke="#666" stroke-width="0.5"/>
<line x1="223.4" y1="262.54" x2="222.0" y2="262.54" stroke="#666" stroke-width="0.5"/>
<text x="242.22" y="288.0" font-size="4.6" text-anchor="middle" fill="#000" stroke="#000" stroke-width="0.18">300</text>
<text x="221.4" y="264.14" font-size="4.6" text-anchor="end" fill="#000" stroke="#000" stroke-width="0.18">300</text>
<line x1="261.03" y1="282.0" x2="261.03" y2="283.4" stroke="#666" stroke-width="0.5"/>
<line x1="223.4" y1="243.07" x2="222.0" y2="243.07" stroke="#666" stroke-width="0.5"/>
<text x="261.03" y="288.0" font-size="4.6" text-anchor="middle" fill="#000" stroke="#000" stroke-width="0.18">600</text>
<text x="221.4" y="244.67" font-size="4.6" text-anchor="end" fill="#000" stroke="#000" stroke-width="0.18">600</text>
<line x1="279.85" y1="282.0" x2="279.85" y2="283.4" stroke="#666" stroke-width="0.5"/>
<line x1="223.4" y1="223.61" x2="222.0" y2="223.61" stroke="#666" stroke-width="0.5"/>
<text x="279.85" y="288.0" font-size="4.6" text-anchor="middle" fill="#000" stroke="#000" stroke-width="0.18">900</text>
<text x="221.4" y="225.21" font-size="4.6" text-anchor="end" fill="#000" stroke="#000" stroke-width="0.18">900</text>
<line x1="298.67" y1="282.0" x2="298.67" y2="283.4" stroke="#666" stroke-width="0.5"/>
<line x1="223.4" y1="204.14" x2="222.0" y2="204.14" stroke="#666" stroke-width="0.5"/>
<text x="298.67" y="288.0" font-size="4.6" text-anchor="middle" fill="#000" stroke="#000" stroke-width="0.18">1200</text>
<text x="221.4" y="205.74" font-size="4.6" text-anchor="end" fill="#000" stroke="#000" stroke-width="0.18">1200</text>
<line x1="317.48" y1="282.0" x2="317.48" y2="283.4" stroke="#666" stroke-width="0.5"/>
<line x1="223.4" y1="184.68" x2="222.0" y2="184.68" stroke="#666" stroke-width="0.5"/>
<text x="317.48" y="288.0" font-size="4.6" text-anchor="middle" fill="#000" stroke="#000" stroke-width="0.18">1500</text>
<text x="221.4" y="186.28" font-size="4.6" text-anchor="end" fill="#000" stroke="#000" stroke-width="0.18">1500</text>
<text x="276.4" y="295.0" font-size="5.4" text-anchor="middle" fill="#000" stroke="#000" stroke-width="0.15">Measured</text>
<text transform="translate(210.20000000000002,227.2) rotate(-90)" font-size="5.4" text-anchor="middle" fill="#000" stroke="#000" stroke-width="0.15">Predicted</text>
<rect x="288.70000000000005" y="148.4" width="40.60000000000002" height="20" fill="#fff" stroke="#555" stroke-width="1"/>
<text x="309.00" y="162.8" font-size="13.4" text-anchor="middle" fill="#111" textLength="35.5" lengthAdjust="spacingAndGlyphs">NBSH</text>
<rect x="47.6" y="5.40" width="134.10" height="15.9" fill="#fff" stroke="#6a6a6a" stroke-width="1"/>
<text x="49.70" y="17.70" font-size="10" fill="#111" xml:space="preserve" textLength="129.70" lengthAdjust="spacingAndGlyphs">Train  RMSE = 151.96  R<tspan dy="-3.6" font-size="6">2</tspan><tspan dy="3.6"> = 0.982</tspan></text>
<rect x="47.6" y="26.45" width="153.40" height="15.9" fill="#fff" stroke="#6a6a6a" stroke-width="1"/>
<text x="49.70" y="38.75" font-size="10" fill="#111" xml:space="preserve" textLength="149.20" lengthAdjust="spacingAndGlyphs">Validation  RMSE = 180.35  R<tspan dy="-3.6" font-size="6">2</tspan><tspan dy="3.6"> = 0.967</tspan></text>
<rect x="48.2" y="47.50" width="131.10" height="15.9" fill="#fff" stroke="#6a6a6a" stroke-width="1"/>
<text x="50.30" y="59.80" font-size="10" fill="#111" xml:space="preserve" textLength="127.90" lengthAdjust="spacingAndGlyphs">Test  RMSE = 148.03  R<tspan dy="-3.6" font-size="6">2</tspan><tspan dy="3.6"> = 0.978</tspan></text>
<rect x="48.3" y="80.2" width="69.80" height="70.8" fill="#fff" stroke="#6a6a6a" stroke-width="1"/>
<circle cx="59.8" cy="86.3" r="4.2" fill="url(#gbtrain)"/>
<circle cx="59.8" cy="98.1" r="4.2" fill="url(#gbval)"/>
<circle cx="59.8" cy="109.9" r="4.2" fill="url(#gbtest)"/>
<line x1="48.3" y1="121.6" x2="70.8" y2="121.6" stroke="#7c7c7c" stroke-width="1.7"/>
<line x1="49" y1="133.3" x2="69" y2="133.3" stroke="#1010ff" stroke-width="1.8" stroke-dasharray="5.2 1.9 1.6 1.9"/>
<line x1="49" y1="145.2" x2="69" y2="145.2" stroke="#18f0f0" stroke-width="1.8" stroke-dasharray="5.2 1.9 1.6 1.9"/>
<text x="73.1" y="89.50" font-size="9.9" fill="#111" textLength="20.4" lengthAdjust="spacingAndGlyphs">Train</text>
<text x="70.65" y="101.30" font-size="9.9" fill="#111" textLength="38.8" lengthAdjust="spacingAndGlyphs">Validation</text>
<text x="73.1" y="113.10" font-size="9.9" fill="#111" textLength="16.0" lengthAdjust="spacingAndGlyphs">Test</text>
<text x="72.4" y="124.80" font-size="9.9" fill="#111" textLength="44.2" lengthAdjust="spacingAndGlyphs">Center Line</text>
<text x="72.4" y="136.50" font-size="9.9" fill="#111" textLength="24.0" lengthAdjust="spacingAndGlyphs">+1.1X</text>
<text x="72.4" y="148.40" font-size="9.9" fill="#111" textLength="22.2" lengthAdjust="spacingAndGlyphs">-0.9Y</text>
<rect x="40.9" y="0" width="292.5" height="1.6" fill="#a6a6a6"/>
<line x1="332.7" y1="1.2" x2="332.7" y2="298.4" stroke="#707070" stroke-width="1.8"/>
<line x1="42.9" y1="0.5" x2="42.9" y2="298.4" stroke="#555" stroke-width="1.5"/>
<line x1="40.9" y1="298.4" x2="333.4" y2="298.4" stroke="#333" stroke-width="1.4"/>
<line x1="63.47" y1="298.4" x2="63.47" y2="302.59999999999997" stroke="#333" stroke-width="1.2"/>
<line x1="42.9" y1="277.15" x2="38.699999999999996" y2="277.15" stroke="#555" stroke-width="1.2"/>
<text x="63.47" y="312.8" font-size="9.6" text-anchor="middle" fill="#222">0</text>
<text x="35.5" y="280.15" font-size="9.3" text-anchor="end" fill="#222">0</text>
<line x1="84.18" y1="298.4" x2="84.18" y2="300.79999999999995" stroke="#333" stroke-width="1.2"/>
<line x1="42.9" y1="255.92" x2="40.5" y2="255.92" stroke="#555" stroke-width="1.2"/>
<line x1="104.89" y1="298.4" x2="104.89" y2="302.59999999999997" stroke="#333" stroke-width="1.2"/>
<line x1="42.9" y1="234.70" x2="38.699999999999996" y2="234.70" stroke="#555" stroke-width="1.2"/>
<text x="105.89" y="314.2" font-size="9.6" text-anchor="middle" fill="#222">1×10<tspan dy="-3.8" font-size="6.4">3</tspan></text>
<text x="36.0" y="237.70" font-size="9.3" text-anchor="end" fill="#222">1×10<tspan dy="-3.8" font-size="6.4">3</tspan></text>
<line x1="125.60" y1="298.4" x2="125.60" y2="300.79999999999995" stroke="#333" stroke-width="1.2"/>
<line x1="42.9" y1="213.47" x2="40.5" y2="213.47" stroke="#555" stroke-width="1.2"/>
<line x1="146.30" y1="298.4" x2="146.30" y2="302.59999999999997" stroke="#333" stroke-width="1.2"/>
<line x1="42.9" y1="192.25" x2="38.699999999999996" y2="192.25" stroke="#555" stroke-width="1.2"/>
<text x="147.30" y="314.2" font-size="9.6" text-anchor="middle" fill="#222">2×10<tspan dy="-3.8" font-size="6.4">3</tspan></text>
<text x="36.0" y="195.25" font-size="9.3" text-anchor="end" fill="#222">2×10<tspan dy="-3.8" font-size="6.4">3</tspan></text>
<line x1="167.01" y1="298.4" x2="167.01" y2="300.79999999999995" stroke="#333" stroke-width="1.2"/>
<line x1="42.9" y1="171.02" x2="40.5" y2="171.02" stroke="#555" stroke-width="1.2"/>
<line x1="187.72" y1="298.4" x2="187.72" y2="302.59999999999997" stroke="#333" stroke-width="1.2"/>
<line x1="42.9" y1="149.80" x2="38.699999999999996" y2="149.80" stroke="#555" stroke-width="1.2"/>
<text x="188.72" y="314.2" font-size="9.6" text-anchor="middle" fill="#222">3×10<tspan dy="-3.8" font-size="6.4">3</tspan></text>
<text x="36.0" y="152.80" font-size="9.3" text-anchor="end" fill="#222">3×10<tspan dy="-3.8" font-size="6.4">3</tspan></text>
<line x1="208.43" y1="298.4" x2="208.43" y2="300.79999999999995" stroke="#333" stroke-width="1.2"/>
<line x1="42.9" y1="128.57" x2="40.5" y2="128.57" stroke="#555" stroke-width="1.2"/>
<line x1="229.14" y1="298.4" x2="229.14" y2="302.59999999999997" stroke="#333" stroke-width="1.2"/>
<line x1="42.9" y1="107.35" x2="38.699999999999996" y2="107.35" stroke="#555" stroke-width="1.2"/>
<text x="230.14" y="314.2" font-size="9.6" text-anchor="middle" fill="#222">4×10<tspan dy="-3.8" font-size="6.4">3</tspan></text>
<text x="36.0" y="110.35" font-size="9.3" text-anchor="end" fill="#222">4×10<tspan dy="-3.8" font-size="6.4">3</tspan></text>
<line x1="249.85" y1="298.4" x2="249.85" y2="300.79999999999995" stroke="#333" stroke-width="1.2"/>
<line x1="42.9" y1="86.12" x2="40.5" y2="86.12" stroke="#555" stroke-width="1.2"/>
<line x1="270.56" y1="298.4" x2="270.56" y2="302.59999999999997" stroke="#333" stroke-width="1.2"/>
<line x1="42.9" y1="64.90" x2="38.699999999999996" y2="64.90" stroke="#555" stroke-width="1.2"/>
<text x="271.56" y="314.2" font-size="9.6" text-anchor="middle" fill="#222">5×10<tspan dy="-3.8" font-size="6.4">3</tspan></text>
<text x="36.0" y="67.90" font-size="9.3" text-anchor="end" fill="#222">5×10<tspan dy="-3.8" font-size="6.4">3</tspan></text>
<line x1="291.26" y1="298.4" x2="291.26" y2="300.79999999999995" stroke="#333" stroke-width="1.2"/>
<line x1="42.9" y1="43.67" x2="40.5" y2="43.67" stroke="#555" stroke-width="1.2"/>
<line x1="311.97" y1="298.4" x2="311.97" y2="302.59999999999997" stroke="#333" stroke-width="1.2"/>
<line x1="42.9" y1="22.45" x2="38.699999999999996" y2="22.45" stroke="#555" stroke-width="1.2"/>
<text x="312.97" y="314.2" font-size="9.6" text-anchor="middle" fill="#222">6×10<tspan dy="-3.8" font-size="6.4">3</tspan></text>
<text x="36.0" y="25.45" font-size="9.3" text-anchor="end" fill="#222">6×10<tspan dy="-3.8" font-size="6.4">3</tspan></text>
<line x1="332.68" y1="298.4" x2="332.68" y2="300.79999999999995" stroke="#333" stroke-width="1.2"/>
<line x1="42.9" y1="1.22" x2="40.5" y2="1.22" stroke="#555" stroke-width="1.2"/>
<text x="188" y="330.6" font-size="12.2" text-anchor="middle" fill="#111" textLength="43.6" lengthAdjust="spacingAndGlyphs">Measured</text>
<text transform="translate(9.2,150.3) rotate(-90)" font-size="11.6" text-anchor="middle" fill="#111">Predicted</text>
</g>
<g transform="translate(174.6,378.2)">
<clipPath id="clipc"><rect x="42.9" y="1.2" width="289.8" height="297.2"/></clipPath>
<clipPath id="iclipc"><rect x="223.4" y="172.35" width="105.99999999999997" height="109.65"/></clipPath>
<g clip-path="url(#clipc)">
<ellipse cx="98.95" cy="239.9" rx="55.9" ry="27.0" transform="rotate(-48.7 98.95 239.9)" fill="none" stroke="#6a6a6a" stroke-width="1.4" stroke-dasharray="4.2 2.6"/>
<circle cx="92.0" cy="238.5" r="4.35" fill="url(#gctrain)"/><circle cx="136.4" cy="216.4" r="4.35" fill="url(#gctrain)"/><circle cx="133.6" cy="218.3" r="4.35" fill="url(#gctrain)"/><circle cx="130.9" cy="220.2" r="4.35" fill="url(#gctrain)"/><circle cx="128.2" cy="222.1" r="4.35" fill="url(#gctrain)"/><circle cx="125.4" cy="224.0" r="4.35" fill="url(#gctrain)"/><circle cx="122.7" cy="225.9" r="4.35" fill="url(#gctrain)"/><circle cx="119.9" cy="227.7" r="4.35" fill="url(#gctrain)"/><circle cx="117.2" cy="229.6" r="4.35" fill="url(#gctrain)"/><circle cx="114.5" cy="231.5" r="4.35" fill="url(#gctrain)"/><circle cx="111.7" cy="233.4" r="4.35" fill="url(#gctrain)"/><circle cx="109.0" cy="235.3" r="4.35" fill="url(#gctrain)"/><circle cx="106.2" cy="237.2" r="4.35" fill="url(#gctrain)"/><circle cx="103.5" cy="239.1" r="4.35" fill="url(#gctrain)"/><circle cx="100.7" cy="240.9" r="4.35" fill="url(#gctrain)"/><circle cx="97.9" cy="242.7" r="4.35" fill="url(#gctrain)"/><circle cx="95.0" cy="244.4" r="4.35" fill="url(#gctrain)"/><circle cx="92.2" cy="246.2" r="4.35" fill="url(#gctrain)"/><circle cx="89.4" cy="248.0" r="4.35" fill="url(#gctrain)"/><circle cx="86.6" cy="249.7" r="4.35" fill="url(#gctrain)"/><circle cx="83.7" cy="251.5" r="4.35" fill="url(#gctrain)"/><circle cx="80.9" cy="253.3" r="4.35" fill="url(#gctrain)"/><circle cx="78.1" cy="255.1" r="4.35" fill="url(#gctrain)"/><circle cx="75.2" cy="256.8" r="4.35" fill="url(#gctrain)"/><circle cx="72.4" cy="258.6" r="4.35" fill="url(#gctrain)"/><circle cx="298.7" cy="40.3" r="4.35" fill="url(#gctrain)"/><circle cx="280.8" cy="53.2" r="4.35" fill="url(#gctrain)"/><circle cx="258.0" cy="71.0" r="4.35" fill="url(#gctrain)"/><circle cx="242.8" cy="83.7" r="4.35" fill="url(#gctrain)"/><circle cx="211.8" cy="106.5" r="4.35" fill="url(#gctrain)"/><circle cx="175.3" cy="135.1" r="4.35" fill="url(#gctrain)"/><circle cx="215.3" cy="152.4" r="4.35" fill="url(#gctrain)"/><circle cx="206.3" cy="159.5" r="4.35" fill="url(#gctrain)"/><circle cx="183.2" cy="178.4" r="4.35" fill="url(#gctrain)"/><circle cx="176.2" cy="182.8" r="4.35" fill="url(#gctrain)"/><circle cx="170.9" cy="187.1" r="4.35" fill="url(#gctrain)"/><circle cx="163.1" cy="193.3" r="4.35" fill="url(#gctrain)"/><circle cx="156.1" cy="200.3" r="4.35" fill="url(#gctrain)"/><circle cx="147.3" cy="207.3" r="4.35" fill="url(#gctrain)"/><circle cx="91.9" cy="238.6" r="4.35" fill="url(#gctrain)"/>
<circle cx="137.0" cy="208.7" r="4.35" fill="url(#gcval)"/><circle cx="139.2" cy="211.0" r="4.35" fill="url(#gcval)"/><circle cx="115.4" cy="232.8" r="4.35" fill="url(#gcval)"/><circle cx="128.4" cy="223.8" r="4.35" fill="url(#gcval)"/><circle cx="81.4" cy="251.8" r="4.35" fill="url(#gcval)"/><circle cx="157.8" cy="154.4" r="4.35" fill="url(#gcval)"/><circle cx="199.3" cy="160.5" r="4.35" fill="url(#gcval)"/><circle cx="183.2" cy="173.1" r="4.35" fill="url(#gcval)"/><circle cx="163.1" cy="188.9" r="4.35" fill="url(#gcval)"/><circle cx="158.7" cy="190.6" r="4.35" fill="url(#gcval)"/><circle cx="156.1" cy="195.9" r="4.35" fill="url(#gcval)"/><circle cx="151.7" cy="199.4" r="4.35" fill="url(#gcval)"/><circle cx="138.2" cy="209.4" r="4.35" fill="url(#gcval)"/><circle cx="67.9" cy="268.5" r="4.35" fill="url(#gcval)"/>
<circle cx="248.5" cy="119.7" r="4.35" fill="url(#gctest)"/><circle cx="120.7" cy="198.6" r="4.35" fill="url(#gctest)"/><circle cx="145.9" cy="205.0" r="4.35" fill="url(#gctest)"/><circle cx="73.8" cy="260.6" r="4.35" fill="url(#gctest)"/><circle cx="76.5" cy="258.6" r="4.35" fill="url(#gctest)"/><circle cx="79.2" cy="256.7" r="4.35" fill="url(#gctest)"/><circle cx="81.9" cy="254.7" r="4.35" fill="url(#gctest)"/><circle cx="84.6" cy="252.8" r="4.35" fill="url(#gctest)"/><circle cx="87.3" cy="250.8" r="4.35" fill="url(#gctest)"/><circle cx="90.0" cy="248.8" r="4.35" fill="url(#gctest)"/><circle cx="92.7" cy="246.9" r="4.35" fill="url(#gctest)"/><circle cx="95.4" cy="244.9" r="4.35" fill="url(#gctest)"/><circle cx="98.1" cy="242.9" r="4.35" fill="url(#gctest)"/><circle cx="100.8" cy="241.0" r="4.35" fill="url(#gctest)"/><circle cx="103.4" cy="239.0" r="4.35" fill="url(#gctest)"/><circle cx="106.0" cy="236.9" r="4.35" fill="url(#gctest)"/><circle cx="108.6" cy="234.8" r="4.35" fill="url(#gctest)"/><circle cx="111.2" cy="232.7" r="4.35" fill="url(#gctest)"/><circle cx="113.9" cy="230.7" r="4.35" fill="url(#gctest)"/><circle cx="116.5" cy="228.6" r="4.35" fill="url(#gctest)"/><circle cx="119.1" cy="226.5" r="4.35" fill="url(#gctest)"/><circle cx="121.7" cy="224.4" r="4.35" fill="url(#gctest)"/><circle cx="124.3" cy="222.3" r="4.35" fill="url(#gctest)"/><circle cx="126.9" cy="220.2" r="4.35" fill="url(#gctest)"/><circle cx="129.5" cy="218.2" r="4.35" fill="url(#gctest)"/><circle cx="132.1" cy="216.1" r="4.35" fill="url(#gctest)"/><circle cx="134.7" cy="214.0" r="4.35" fill="url(#gctest)"/>
<line x1="42.76" y1="298.38" x2="332.68" y2="1.22" stroke="#7c7c7c" stroke-width="1.7"/>
<line x1="44.42" y1="298.63" x2="311.97" y2="-3.02" stroke="#1010ff" stroke-width="1.8" stroke-dasharray="5.2 1.9 1.6 1.9"/>
<line x1="40.0" y1="298.41" x2="340.0" y2="22.71" stroke="#18f0f0" stroke-width="1.8" stroke-dasharray="5.2 1.9 1.6 1.9"/>
</g>
<rect x="223.4" y="172.35" width="105.99999999999997" height="109.65" fill="#fff" stroke="#8a8a8a" stroke-width="0.9"/>
<g clip-path="url(#iclipc)">
<circle cx="244.5" cy="252.0" r="2.05" fill="url(#gctrain)"/><circle cx="245.3" cy="254.8" r="2.05" fill="url(#gctrain)"/><circle cx="252.7" cy="248.2" r="2.05" fill="url(#gctrain)"/><circle cx="255.2" cy="243.2" r="2.05" fill="url(#gctrain)"/><circle cx="256.9" cy="242.3" r="2.05" fill="url(#gctrain)"/><circle cx="264.6" cy="225.9" r="2.05" fill="url(#gctrain)"/><circle cx="272.5" cy="232.5" r="2.05" fill="url(#gctrain)"/><circle cx="274.4" cy="230.8" r="2.05" fill="url(#gctrain)"/><circle cx="280.0" cy="224.2" r="2.05" fill="url(#gctrain)"/><circle cx="282.4" cy="222.8" r="2.05" fill="url(#gctrain)"/><circle cx="289.0" cy="222.6" r="2.05" fill="url(#gctrain)"/><circle cx="292.3" cy="219.3" r="2.05" fill="url(#gctrain)"/><circle cx="295.6" cy="216.0" r="2.05" fill="url(#gctrain)"/><circle cx="298.9" cy="213.5" r="2.05" fill="url(#gctrain)"/><circle cx="311.3" cy="203.6" r="2.05" fill="url(#gctrain)"/><circle cx="316.3" cy="199.5" r="2.05" fill="url(#gctrain)"/><circle cx="250.4" cy="249.8" r="2.05" fill="url(#gctrain)"/><circle cx="277.4" cy="226.8" r="2.05" fill="url(#gctrain)"/><circle cx="246.8" cy="252.7" r="2.05" fill="url(#gctrain)"/><circle cx="247.0" cy="248.5" r="2.05" fill="url(#gctrain)"/><circle cx="252.5" cy="248.3" r="2.05" fill="url(#gctrain)"/><circle cx="252.8" cy="244.1" r="2.05" fill="url(#gctrain)"/><circle cx="258.3" cy="243.9" r="2.05" fill="url(#gctrain)"/><circle cx="258.6" cy="239.7" r="2.05" fill="url(#gctrain)"/><circle cx="264.1" cy="239.5" r="2.05" fill="url(#gctrain)"/><circle cx="264.4" cy="235.3" r="2.05" fill="url(#gctrain)"/><circle cx="269.9" cy="235.1" r="2.05" fill="url(#gctrain)"/><circle cx="270.2" cy="230.8" r="2.05" fill="url(#gctrain)"/><circle cx="275.7" cy="230.7" r="2.05" fill="url(#gctrain)"/><circle cx="275.9" cy="226.4" r="2.05" fill="url(#gctrain)"/><circle cx="281.5" cy="226.3" r="2.05" fill="url(#gctrain)"/><circle cx="281.7" cy="222.0" r="2.05" fill="url(#gctrain)"/><circle cx="287.2" cy="221.8" r="2.05" fill="url(#gctrain)"/><circle cx="287.5" cy="217.6" r="2.05" fill="url(#gctrain)"/><circle cx="293.0" cy="217.4" r="2.05" fill="url(#gctrain)"/><circle cx="293.3" cy="213.2" r="2.05" fill="url(#gctrain)"/><circle cx="298.8" cy="213.0" r="2.05" fill="url(#gctrain)"/><circle cx="299.1" cy="208.8" r="2.05" fill="url(#gctrain)"/><circle cx="304.6" cy="208.6" r="2.05" fill="url(#gctrain)"/><circle cx="304.9" cy="204.4" r="2.05" fill="url(#gctrain)"/><circle cx="310.4" cy="204.2" r="2.05" fill="url(#gctrain)"/><circle cx="310.6" cy="200.0" r="2.05" fill="url(#gctrain)"/><circle cx="316.1" cy="199.8" r="2.05" fill="url(#gctrain)"/><circle cx="316.4" cy="195.6" r="2.05" fill="url(#gctrain)"/><circle cx="321.9" cy="195.4" r="2.05" fill="url(#gctrain)"/><circle cx="322.2" cy="191.2" r="2.05" fill="url(#gctrain)"/><circle cx="327.7" cy="191.0" r="2.05" fill="url(#gctrain)"/><circle cx="249.6" cy="246.2" r="2.05" fill="url(#gctrain)"/><circle cx="254.3" cy="243.3" r="2.05" fill="url(#gctrain)"/><circle cx="258.9" cy="239.3" r="2.05" fill="url(#gctrain)"/><circle cx="263.6" cy="234.6" r="2.05" fill="url(#gctrain)"/><circle cx="268.3" cy="230.8" r="2.05" fill="url(#gctrain)"/><circle cx="272.9" cy="228.0" r="2.05" fill="url(#gctrain)"/><circle cx="277.6" cy="225.0" r="2.05" fill="url(#gctrain)"/><circle cx="282.3" cy="220.8" r="2.05" fill="url(#gctrain)"/><circle cx="286.9" cy="216.2" r="2.05" fill="url(#gctrain)"/><circle cx="291.6" cy="212.6" r="2.05" fill="url(#gctrain)"/><circle cx="296.3" cy="209.9" r="2.05" fill="url(#gctrain)"/><circle cx="300.9" cy="206.7" r="2.05" fill="url(#gctrain)"/><circle cx="305.6" cy="202.3" r="2.05" fill="url(#gctrain)"/><circle cx="310.3" cy="197.8" r="2.05" fill="url(#gctrain)"/><circle cx="314.9" cy="194.4" r="2.05" fill="url(#gctrain)"/><circle cx="319.6" cy="191.7" r="2.05" fill="url(#gctrain)"/>
<circle cx="228.8" cy="273.4" r="2.05" fill="url(#gcval)"/><circle cx="230.5" cy="272.1" r="2.05" fill="url(#gcval)"/><circle cx="243.7" cy="255.6" r="2.05" fill="url(#gcval)"/><circle cx="259.4" cy="240.7" r="2.05" fill="url(#gcval)"/><circle cx="263.5" cy="236.6" r="2.05" fill="url(#gcval)"/><circle cx="284.1" cy="222.6" r="2.05" fill="url(#gcval)"/><circle cx="290.7" cy="218.5" r="2.05" fill="url(#gcval)"/><circle cx="307.2" cy="202.0" r="2.05" fill="url(#gcval)"/><circle cx="309.4" cy="200.8" r="2.05" fill="url(#gcval)"/><circle cx="318.7" cy="196.2" r="2.05" fill="url(#gcval)"/><circle cx="324.5" cy="188.8" r="2.05" fill="url(#gcval)"/><circle cx="325.9" cy="187.3" r="2.05" fill="url(#gcval)"/><circle cx="273.4" cy="230.8" r="2.05" fill="url(#gcval)"/><circle cx="295.4" cy="213.8" r="2.05" fill="url(#gcval)"/><circle cx="244.0" cy="252.8" r="2.05" fill="url(#gcval)"/><circle cx="249.8" cy="248.4" r="2.05" fill="url(#gcval)"/><circle cx="255.6" cy="244.1" r="2.05" fill="url(#gcval)"/><circle cx="261.4" cy="239.7" r="2.05" fill="url(#gcval)"/><circle cx="267.2" cy="235.3" r="2.05" fill="url(#gcval)"/><circle cx="273.0" cy="231.0" r="2.05" fill="url(#gcval)"/><circle cx="278.8" cy="226.6" r="2.05" fill="url(#gcval)"/><circle cx="284.6" cy="222.2" r="2.05" fill="url(#gcval)"/><circle cx="290.5" cy="217.9" r="2.05" fill="url(#gcval)"/><circle cx="296.3" cy="213.5" r="2.05" fill="url(#gcval)"/><circle cx="302.1" cy="209.1" r="2.05" fill="url(#gcval)"/><circle cx="307.9" cy="204.7" r="2.05" fill="url(#gcval)"/><circle cx="313.7" cy="200.4" r="2.05" fill="url(#gcval)"/><circle cx="319.5" cy="196.0" r="2.05" fill="url(#gcval)"/><circle cx="325.3" cy="191.6" r="2.05" fill="url(#gcval)"/>
<circle cx="238.4" cy="260.2" r="2.05" fill="url(#gctest)"/><circle cx="247.8" cy="253.1" r="2.05" fill="url(#gctest)"/><circle cx="257.7" cy="245.7" r="2.05" fill="url(#gctest)"/><circle cx="262.6" cy="239.1" r="2.05" fill="url(#gctest)"/><circle cx="268.4" cy="234.1" r="2.05" fill="url(#gctest)"/><circle cx="269.4" cy="235.8" r="2.05" fill="url(#gctest)"/><circle cx="276.7" cy="228.4" r="2.05" fill="url(#gctest)"/><circle cx="284.9" cy="220.1" r="2.05" fill="url(#gctest)"/><circle cx="285.9" cy="219.1" r="2.05" fill="url(#gctest)"/><circle cx="298.9" cy="207.4" r="2.05" fill="url(#gctest)"/><circle cx="301.4" cy="209.1" r="2.05" fill="url(#gctest)"/><circle cx="306.4" cy="206.4" r="2.05" fill="url(#gctest)"/><circle cx="315.4" cy="197.0" r="2.05" fill="url(#gctest)"/><circle cx="321.2" cy="192.9" r="2.05" fill="url(#gctest)"/><circle cx="327.0" cy="188.8" r="2.05" fill="url(#gctest)"/><circle cx="251.1" cy="245.0" r="2.05" fill="url(#gctest)"/><circle cx="263.9" cy="235.6" r="2.05" fill="url(#gctest)"/><circle cx="276.7" cy="224.6" r="2.05" fill="url(#gctest)"/><circle cx="289.5" cy="216.6" r="2.05" fill="url(#gctest)"/><circle cx="302.3" cy="204.8" r="2.05" fill="url(#gctest)"/><circle cx="315.1" cy="196.8" r="2.05" fill="url(#gctest)"/>
<line x1="223.4" y1="282.0" x2="329.4" y2="172.35" stroke="#444" stroke-width="0.7"/>
<line x1="223.4" y1="282.0" x2="319.76" y2="172.35" stroke="#4040ff" stroke-width="0.7"/>
<line x1="223.4" y1="282.0" x2="329.4" y2="183.31" stroke="#30f0f0" stroke-width="0.8"/>
</g>
<line x1="223.40" y1="282.0" x2="223.40" y2="283.4" stroke="#666" stroke-width="0.5"/>
<line x1="223.4" y1="282.00" x2="222.0" y2="282.00" stroke="#666" stroke-width="0.5"/>
<text x="223.40" y="288.0" font-size="4.6" text-anchor="middle" fill="#000" stroke="#000" stroke-width="0.18">0</text>
<text x="221.4" y="283.60" font-size="4.6" text-anchor="end" fill="#000" stroke="#000" stroke-width="0.18">0</text>
<line x1="242.22" y1="282.0" x2="242.22" y2="283.4" stroke="#666" stroke-width="0.5"/>
<line x1="223.4" y1="262.54" x2="222.0" y2="262.54" stroke="#666" stroke-width="0.5"/>
<text x="242.22" y="288.0" font-size="4.6" text-anchor="middle" fill="#000" stroke="#000" stroke-width="0.18">300</text>
<text x="221.4" y="264.14" font-size="4.6" text-anchor="end" fill="#000" stroke="#000" stroke-width="0.18">300</text>
<line x1="261.03" y1="282.0" x2="261.03" y2="283.4" stroke="#666" stroke-width="0.5"/>
<line x1="223.4" y1="243.07" x2="222.0" y2="243.07" stroke="#666" stroke-width="0.5"/>
<text x="261.03" y="288.0" font-size="4.6" text-anchor="middle" fill="#000" stroke="#000" stroke-width="0.18">600</text>
<text x="221.4" y="244.67" font-size="4.6" text-anchor="end" fill="#000" stroke="#000" stroke-width="0.18">600</text>
<line x1="279.85" y1="282.0" x2="279.85" y2="283.4" stroke="#666" stroke-width="0.5"/>
<line x1="223.4" y1="223.61" x2="222.0" y2="223.61" stroke="#666" stroke-width="0.5"/>
<text x="279.85" y="288.0" font-size="4.6" text-anchor="middle" fill="#000" stroke="#000" stroke-width="0.18">900</text>
<text x="221.4" y="225.21" font-size="4.6" text-anchor="end" fill="#000" stroke="#000" stroke-width="0.18">900</text>
<line x1="298.67" y1="282.0" x2="298.67" y2="283.4" stroke="#666" stroke-width="0.5"/>
<line x1="223.4" y1="204.14" x2="222.0" y2="204.14" stroke="#666" stroke-width="0.5"/>
<text x="298.67" y="288.0" font-size="4.6" text-anchor="middle" fill="#000" stroke="#000" stroke-width="0.18">1200</text>
<text x="221.4" y="205.74" font-size="4.6" text-anchor="end" fill="#000" stroke="#000" stroke-width="0.18">1200</text>
<line x1="317.48" y1="282.0" x2="317.48" y2="283.4" stroke="#666" stroke-width="0.5"/>
<line x1="223.4" y1="184.68" x2="222.0" y2="184.68" stroke="#666" stroke-width="0.5"/>
<text x="317.48" y="288.0" font-size="4.6" text-anchor="middle" fill="#000" stroke="#000" stroke-width="0.18">1500</text>
<text x="221.4" y="186.28" font-size="4.6" text-anchor="end" fill="#000" stroke="#000" stroke-width="0.18">1500</text>
<text x="276.4" y="295.0" font-size="5.4" text-anchor="middle" fill="#000" stroke="#000" stroke-width="0.15">Measured</text>
<text transform="translate(210.20000000000002,227.2) rotate(-90)" font-size="5.4" text-anchor="middle" fill="#000" stroke="#000" stroke-width="0.15">Predicted</text>
<rect x="287.4" y="148.4" width="43.39999999999998" height="20" fill="#fff" stroke="#555" stroke-width="1"/>
<text x="309.10" y="162.8" font-size="13.4" text-anchor="middle" fill="#111" textLength="38.5" lengthAdjust="spacingAndGlyphs">NBAO</text>
<rect x="47.6" y="5.40" width="132.30" height="15.9" fill="#fff" stroke="#6a6a6a" stroke-width="1"/>
<text x="49.70" y="17.70" font-size="10" fill="#111" xml:space="preserve" textLength="128.70" lengthAdjust="spacingAndGlyphs">Train  RMSE =193.25  R<tspan dy="-3.6" font-size="6">2</tspan><tspan dy="3.6"> = 0.970</tspan></text>
<rect x="47.6" y="26.45" width="154.40" height="15.9" fill="#fff" stroke="#6a6a6a" stroke-width="1"/>
<text x="49.70" y="38.75" font-size="10" fill="#111" xml:space="preserve" textLength="150.30" lengthAdjust="spacingAndGlyphs">Validation  RMSE = 269.57  R<tspan dy="-3.6" font-size="6">2</tspan><tspan dy="3.6"> = 0.949</tspan></text>
<rect x="48.2" y="47.50" width="131.40" height="15.9" fill="#fff" stroke="#6a6a6a" stroke-width="1"/>
<text x="50.30" y="59.80" font-size="10" fill="#111" xml:space="preserve" textLength="128.00" lengthAdjust="spacingAndGlyphs">Test  RMSE = 201.52  R<tspan dy="-3.6" font-size="6">2</tspan><tspan dy="3.6"> = 0.970</tspan></text>
<rect x="48.3" y="80.2" width="68.80" height="70.8" fill="#fff" stroke="#6a6a6a" stroke-width="1"/>
<circle cx="59.8" cy="86.3" r="4.2" fill="url(#gctrain)"/>
<circle cx="59.8" cy="98.1" r="4.2" fill="url(#gcval)"/>
<circle cx="59.8" cy="109.9" r="4.2" fill="url(#gctest)"/>
<line x1="48.3" y1="121.6" x2="70.8" y2="121.6" stroke="#7c7c7c" stroke-width="1.7"/>
<line x1="49" y1="133.3" x2="69" y2="133.3" stroke="#1010ff" stroke-width="1.8" stroke-dasharray="5.2 1.9 1.6 1.9"/>
<line x1="49" y1="145.2" x2="69" y2="145.2" stroke="#18f0f0" stroke-width="1.8" stroke-dasharray="5.2 1.9 1.6 1.9"/>
<text x="73.1" y="89.50" font-size="9.9" fill="#111" textLength="20.4" lengthAdjust="spacingAndGlyphs">Train</text>
<text x="70.65" y="101.30" font-size="9.9" fill="#111" textLength="38.8" lengthAdjust="spacingAndGlyphs">Validation</text>
<text x="73.1" y="113.10" font-size="9.9" fill="#111" textLength="16.0" lengthAdjust="spacingAndGlyphs">Test</text>
<text x="72.4" y="124.80" font-size="9.9" fill="#111" textLength="44.2" lengthAdjust="spacingAndGlyphs">Center Line</text>
<text x="72.4" y="136.50" font-size="9.9" fill="#111" textLength="24.0" lengthAdjust="spacingAndGlyphs">+1.1X</text>
<text x="72.4" y="148.40" font-size="9.9" fill="#111" textLength="22.2" lengthAdjust="spacingAndGlyphs">-0.9Y</text>
<line x1="41.1" y1="1.3" x2="332.7" y2="1.3" stroke="#555" stroke-width="1.4"/>
<line x1="332.7" y1="1.2" x2="332.7" y2="298.4" stroke="#707070" stroke-width="1.8"/>
<line x1="42.9" y1="0.5" x2="42.9" y2="298.4" stroke="#555" stroke-width="1.5"/>
<line x1="40.9" y1="298.4" x2="333.4" y2="298.4" stroke="#333" stroke-width="1.4"/>
<line x1="63.47" y1="298.4" x2="63.47" y2="302.59999999999997" stroke="#333" stroke-width="1.2"/>
<line x1="42.9" y1="277.15" x2="38.699999999999996" y2="277.15" stroke="#555" stroke-width="1.2"/>
<text x="63.47" y="312.8" font-size="9.6" text-anchor="middle" fill="#222">0</text>
<text x="35.5" y="280.15" font-size="9.3" text-anchor="end" fill="#222">0</text>
<line x1="84.18" y1="298.4" x2="84.18" y2="300.79999999999995" stroke="#333" stroke-width="1.2"/>
<line x1="42.9" y1="255.92" x2="40.5" y2="255.92" stroke="#555" stroke-width="1.2"/>
<line x1="104.89" y1="298.4" x2="104.89" y2="302.59999999999997" stroke="#333" stroke-width="1.2"/>
<line x1="42.9" y1="234.70" x2="38.699999999999996" y2="234.70" stroke="#555" stroke-width="1.2"/>
<text x="105.89" y="314.2" font-size="9.6" text-anchor="middle" fill="#222">1×10<tspan dy="-3.8" font-size="6.4">3</tspan></text>
<text x="36.0" y="237.70" font-size="9.3" text-anchor="end" fill="#222">1×10<tspan dy="-3.8" font-size="6.4">3</tspan></text>
<line x1="125.60" y1="298.4" x2="125.60" y2="300.79999999999995" stroke="#333" stroke-width="1.2"/>
<line x1="42.9" y1="213.47" x2="40.5" y2="213.47" stroke="#555" stroke-width="1.2"/>
<line x1="146.30" y1="298.4" x2="146.30" y2="302.59999999999997" stroke="#333" stroke-width="1.2"/>
<line x1="42.9" y1="192.25" x2="38.699999999999996" y2="192.25" stroke="#555" stroke-width="1.2"/>
<text x="147.30" y="314.2" font-size="9.6" text-anchor="middle" fill="#222">2×10<tspan dy="-3.8" font-size="6.4">3</tspan></text>
<text x="36.0" y="195.25" font-size="9.3" text-anchor="end" fill="#222">2×10<tspan dy="-3.8" font-size="6.4">3</tspan></text>
<line x1="167.01" y1="298.4" x2="167.01" y2="300.79999999999995" stroke="#333" stroke-width="1.2"/>
<line x1="42.9" y1="171.02" x2="40.5" y2="171.02" stroke="#555" stroke-width="1.2"/>
<line x1="187.72" y1="298.4" x2="187.72" y2="302.59999999999997" stroke="#333" stroke-width="1.2"/>
<line x1="42.9" y1="149.80" x2="38.699999999999996" y2="149.80" stroke="#555" stroke-width="1.2"/>
<text x="188.72" y="314.2" font-size="9.6" text-anchor="middle" fill="#222">3×10<tspan dy="-3.8" font-size="6.4">3</tspan></text>
<text x="36.0" y="152.80" font-size="9.3" text-anchor="end" fill="#222">3×10<tspan dy="-3.8" font-size="6.4">3</tspan></text>
<line x1="208.43" y1="298.4" x2="208.43" y2="300.79999999999995" stroke="#333" stroke-width="1.2"/>
<line x1="42.9" y1="128.57" x2="40.5" y2="128.57" stroke="#555" stroke-width="1.2"/>
<line x1="229.14" y1="298.4" x2="229.14" y2="302.59999999999997" stroke="#333" stroke-width="1.2"/>
<line x1="42.9" y1="107.35" x2="38.699999999999996" y2="107.35" stroke="#555" stroke-width="1.2"/>
<text x="230.14" y="314.2" font-size="9.6" text-anchor="middle" fill="#222">4×10<tspan dy="-3.8" font-size="6.4">3</tspan></text>
<text x="36.0" y="110.35" font-size="9.3" text-anchor="end" fill="#222">4×10<tspan dy="-3.8" font-size="6.4">3</tspan></text>
<line x1="249.85" y1="298.4" x2="249.85" y2="300.79999999999995" stroke="#333" stroke-width="1.2"/>
<line x1="42.9" y1="86.12" x2="40.5" y2="86.12" stroke="#555" stroke-width="1.2"/>
<line x1="270.56" y1="298.4" x2="270.56" y2="302.59999999999997" stroke="#333" stroke-width="1.2"/>
<line x1="42.9" y1="64.90" x2="38.699999999999996" y2="64.90" stroke="#555" stroke-width="1.2"/>
<text x="271.56" y="314.2" font-size="9.6" text-anchor="middle" fill="#222">5×10<tspan dy="-3.8" font-size="6.4">3</tspan></text>
<text x="36.0" y="67.90" font-size="9.3" text-anchor="end" fill="#222">5×10<tspan dy="-3.8" font-size="6.4">3</tspan></text>
<line x1="291.26" y1="298.4" x2="291.26" y2="300.79999999999995" stroke="#333" stroke-width="1.2"/>
<line x1="42.9" y1="43.67" x2="40.5" y2="43.67" stroke="#555" stroke-width="1.2"/>
<line x1="311.97" y1="298.4" x2="311.97" y2="302.59999999999997" stroke="#333" stroke-width="1.2"/>
<line x1="42.9" y1="22.45" x2="38.699999999999996" y2="22.45" stroke="#555" stroke-width="1.2"/>
<text x="312.97" y="314.2" font-size="9.6" text-anchor="middle" fill="#222">6×10<tspan dy="-3.8" font-size="6.4">3</tspan></text>
<text x="36.0" y="25.45" font-size="9.3" text-anchor="end" fill="#222">6×10<tspan dy="-3.8" font-size="6.4">3</tspan></text>
<line x1="332.68" y1="298.4" x2="332.68" y2="300.79999999999995" stroke="#333" stroke-width="1.2"/>
<line x1="42.9" y1="1.22" x2="40.5" y2="1.22" stroke="#555" stroke-width="1.2"/>
<text x="188" y="330.6" font-size="12.2" text-anchor="middle" fill="#111" textLength="43.6" lengthAdjust="spacingAndGlyphs">Measured</text>
<text transform="translate(9.2,150.3) rotate(-90)" font-size="11.6" text-anchor="middle" fill="#111">Predicted</text>
</g>
<text x="180.5" y="361.8" font-size="20" text-anchor="middle" fill="#111">(a)</text>
<text x="544" y="361.8" font-size="20" text-anchor="middle" fill="#111">(b)</text>
<text x="364.8" y="731.8" font-size="20" text-anchor="middle" fill="#111">(c)</text>
</svg>
</body></html>
